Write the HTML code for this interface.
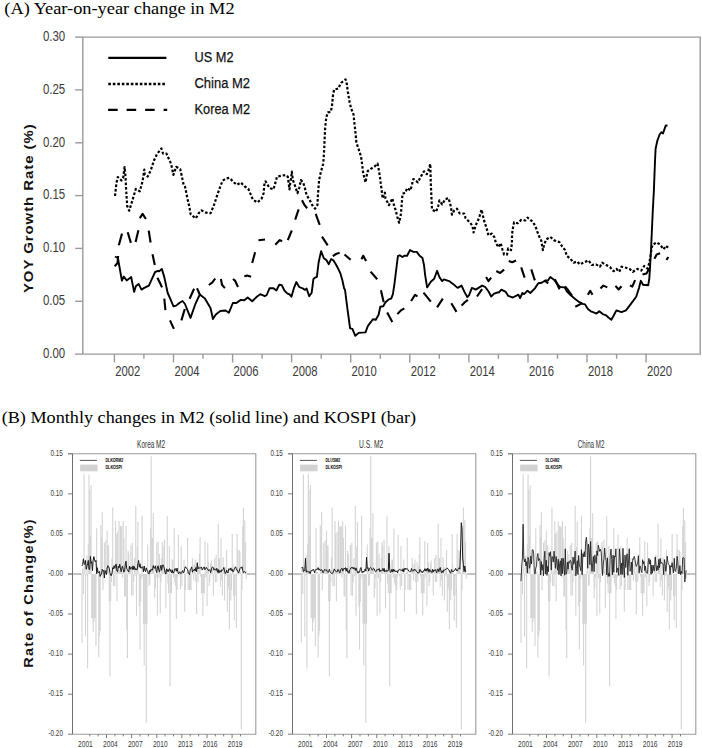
<!DOCTYPE html>
<html><head><meta charset="utf-8"><style>
html,body{margin:0;padding:0;background:#fff;}
svg{display:block;}
text{font-family:"Liberation Sans",sans-serif;}
.serif{font-family:"Liberation Serif",serif;}
</style></head><body>
<svg width="702" height="748" viewBox="0 0 702 748">
<rect width="702" height="748" fill="#fff"/>

<text class="serif" x="4.3" y="13.9" font-size="17.3" fill="#000" textLength="230.3" lengthAdjust="spacingAndGlyphs">(A) Year-on-year change in M2</text>
<g stroke="#9a9a9a" stroke-width="1.4" fill="none" shape-rendering="auto">
<polyline points="82.8,354.1 82.8,37.1 700.2,37.1 700.2,354.1 82.8,354.1"/>
<line x1="75.2" y1="354.1" x2="82.8" y2="354.1"/>
<line x1="75.2" y1="301.3" x2="82.8" y2="301.3"/>
<line x1="75.2" y1="248.4" x2="82.8" y2="248.4"/>
<line x1="75.2" y1="195.6" x2="82.8" y2="195.6"/>
<line x1="75.2" y1="142.8" x2="82.8" y2="142.8"/>
<line x1="75.2" y1="89.9" x2="82.8" y2="89.9"/>
<line x1="75.2" y1="37.1" x2="82.8" y2="37.1"/>
<line x1="114.4" y1="354.1" x2="114.4" y2="362.5"/>
<line x1="143.9" y1="354.1" x2="143.9" y2="358.7"/>
<line x1="173.5" y1="354.1" x2="173.5" y2="362.5"/>
<line x1="203.0" y1="354.1" x2="203.0" y2="358.7"/>
<line x1="232.6" y1="354.1" x2="232.6" y2="362.5"/>
<line x1="262.1" y1="354.1" x2="262.1" y2="358.7"/>
<line x1="291.6" y1="354.1" x2="291.6" y2="362.5"/>
<line x1="321.2" y1="354.1" x2="321.2" y2="358.7"/>
<line x1="350.7" y1="354.1" x2="350.7" y2="362.5"/>
<line x1="380.3" y1="354.1" x2="380.3" y2="358.7"/>
<line x1="409.8" y1="354.1" x2="409.8" y2="362.5"/>
<line x1="439.3" y1="354.1" x2="439.3" y2="358.7"/>
<line x1="468.9" y1="354.1" x2="468.9" y2="362.5"/>
<line x1="498.4" y1="354.1" x2="498.4" y2="358.7"/>
<line x1="528.0" y1="354.1" x2="528.0" y2="362.5"/>
<line x1="557.5" y1="354.1" x2="557.5" y2="358.7"/>
<line x1="587.0" y1="354.1" x2="587.0" y2="362.5"/>
<line x1="616.6" y1="354.1" x2="616.6" y2="358.7"/>
<line x1="646.1" y1="354.1" x2="646.1" y2="362.5"/>
</g>
<g fill="#3a3a3a" font-size="15">
<text x="65.2" y="357.9" text-anchor="end" textLength="22.3" lengthAdjust="spacingAndGlyphs">0.00</text>
<text x="65.2" y="305.1" text-anchor="end" textLength="22.3" lengthAdjust="spacingAndGlyphs">0.05</text>
<text x="65.2" y="252.2" text-anchor="end" textLength="22.3" lengthAdjust="spacingAndGlyphs">0.10</text>
<text x="65.2" y="199.4" text-anchor="end" textLength="22.3" lengthAdjust="spacingAndGlyphs">0.15</text>
<text x="65.2" y="146.6" text-anchor="end" textLength="22.3" lengthAdjust="spacingAndGlyphs">0.20</text>
<text x="65.2" y="93.7" text-anchor="end" textLength="22.3" lengthAdjust="spacingAndGlyphs">0.25</text>
<text x="65.2" y="40.9" text-anchor="end" textLength="22.3" lengthAdjust="spacingAndGlyphs">0.30</text>
<text x="115.3" y="376.4" textLength="25.1" lengthAdjust="spacingAndGlyphs">2002</text>
<text x="174.4" y="376.4" textLength="25.1" lengthAdjust="spacingAndGlyphs">2004</text>
<text x="233.5" y="376.4" textLength="25.1" lengthAdjust="spacingAndGlyphs">2006</text>
<text x="292.5" y="376.4" textLength="25.1" lengthAdjust="spacingAndGlyphs">2008</text>
<text x="351.6" y="376.4" textLength="25.1" lengthAdjust="spacingAndGlyphs">2010</text>
<text x="410.7" y="376.4" textLength="25.1" lengthAdjust="spacingAndGlyphs">2012</text>
<text x="469.8" y="376.4" textLength="25.1" lengthAdjust="spacingAndGlyphs">2014</text>
<text x="528.9" y="376.4" textLength="25.1" lengthAdjust="spacingAndGlyphs">2016</text>
<text x="587.9" y="376.4" textLength="25.1" lengthAdjust="spacingAndGlyphs">2018</text>
<text x="647.0" y="376.4" textLength="25.1" lengthAdjust="spacingAndGlyphs">2020</text>
</g>
<text transform="translate(33.1,208.2) rotate(-90)" text-anchor="middle" font-size="12" font-weight="bold" fill="#111" letter-spacing="0.8" textLength="169.8" lengthAdjust="spacingAndGlyphs">YOY Growth Rate (%)</text>
<g stroke="#000" stroke-width="2.2" fill="none">
<line x1="108.3" y1="57.8" x2="166.4" y2="57.8"/>
<line x1="108.3" y1="84" x2="166.4" y2="84" stroke-dasharray="2.6 1.9" stroke-width="2.3"/>
<line x1="108.1" y1="109.9" x2="167.2" y2="109.9" stroke-dasharray="9.6 8.9"/>
</g>
<g fill="#111" font-size="15.5" stroke="#111" stroke-width="0.25">
<text x="194.5" y="61.6" textLength="39" lengthAdjust="spacingAndGlyphs">US M2</text>
<text x="194.5" y="87.7" textLength="55.5" lengthAdjust="spacingAndGlyphs">China M2</text>
<text x="194.5" y="113.8" textLength="55.5" lengthAdjust="spacingAndGlyphs">Korea M2</text>
</g>
<g fill="none" stroke="#000" stroke-width="1.9" stroke-linejoin="round">
<polyline points="115.0,256.5 117.9,258.0 121.9,280.7 123.8,276.5 126.7,280.5 131.2,277.1 134.1,291.9 135.8,286.2 138.6,283.9 141.5,289.6 144.3,287.9 148.9,285.6 151.7,279.4 155.1,272.0 158.0,270.8 159.1,271.4 161.8,268.9 164.3,277.1 167.7,293.0 170.5,299.3 173.4,306.2 176.2,305.6 179.6,302.7 182.5,301.0 185.0,304.0 187.3,309.8 190.5,317.9 195.3,304.2 199.8,294.5 204.9,298.5 210.6,308.2 212.9,319.0 215.8,314.4 220.3,311.0 225.5,310.5 228.9,312.7 232.9,303.0 236.3,303.0 240.8,299.9 244.3,300.2 247.7,297.6 252.2,301.3 256.8,296.8 260.2,294.2 264.8,296.2 266.7,295.0 269.6,288.2 273.5,288.2 276.4,290.5 279.2,284.8 281.9,285.3 284.4,290.5 287.2,293.3 289.5,294.4 291.4,296.7 294.1,287.6 296.3,282.1 299.2,287.0 303.2,288.7 304.9,289.9 306.6,288.5 309.2,296.2 311.7,292.7 313.4,279.1 314.6,277.9 316.9,276.8 318.6,262.5 321.1,251.1 323.7,258.0 326.5,260.3 328.8,264.2 331.1,259.1 333.4,260.3 336.8,266.0 340.2,272.8 342.5,280.8 344.2,288.7 345.0,289.6 347.3,307.9 350.1,328.4 352.4,328.9 355.3,335.8 358.7,332.9 365.5,332.4 367.8,326.1 372.9,319.3 375.8,319.8 378.6,314.7 380.3,306.7 383.2,306.2 385.5,302.2 388.9,299.3 391.2,298.7 392.9,294.2 394.6,282.8 397.4,260.0 398.0,255.8 399.7,255.3 402.5,257.0 404.3,255.8 407.1,255.8 410.0,250.1 413.4,251.9 416.8,251.9 419.6,255.8 422.5,258.1 424.0,265.0 425.1,274.8 427.1,287.4 430.8,281.7 434.2,278.8 437.1,270.8 439.4,277.1 442.2,281.1 443.9,279.4 449.1,281.1 453.0,283.9 457.6,287.9 461.6,285.6 464.4,291.9 467.3,297.0 469.0,295.3 471.9,287.9 475.8,289.6 479.3,287.4 482.1,285.6 485.0,286.8 488.4,291.3 491.2,296.5 494.1,293.6 497.5,292.5 499.0,292.4 501.3,289.6 505.8,291.9 508.1,295.8 512.7,297.5 516.1,295.8 518.4,294.7 520.1,298.1 522.4,293.0 524.1,294.1 525.8,292.4 527.5,290.7 530.3,293.0 534.9,288.4 538.3,283.3 541.7,282.7 545.1,280.5 548.0,280.5 550.3,277.0 554.3,279.9 557.1,283.9 560.0,287.0 564.6,287.4 566.8,291.3 570.8,295.3 574.8,298.7 579.4,302.2 582.8,303.9 585.1,304.4 587.9,309.0 590.8,311.3 593.6,312.4 596.5,313.6 599.3,311.3 602.7,314.1 606.2,315.3 608.4,317.5 611.3,319.8 613.6,315.8 616.4,310.4 621.4,312.1 626.0,310.4 631.1,303.6 636.2,296.7 639.1,287.6 640.8,280.8 643.0,284.8 648.2,285.3 649.3,278.5 649.9,269.6 651.0,250.0 652.7,212.8 653.9,190.0 655.0,161.3 655.6,148.7 657.3,140.8 659.6,134.5 661.3,132.2 663.0,133.4 665.8,125.4 667.5,125.7"/>
<polyline points="115.0,196.0 116.4,183.3 117.8,177.0 121.5,180.5 123.2,177.6 124.6,167.0 125.0,171.0 125.5,176.5 126.1,189.0 127.2,206.1 129.2,210.7 132.4,200.4 135.8,189.0 139.8,191.3 142.6,181.0 144.3,169.6 144.8,174.8 147.7,176.5 150.6,170.8 154.0,160.5 156.9,154.2 161.4,148.5 163.1,153.7 166.5,153.7 171.1,163.9 173.4,174.8 176.2,166.8 180.2,169.1 183.6,184.4 185.0,186.5 187.3,197.9 189.6,208.1 190.7,214.4 195.8,218.4 198.7,213.2 201.5,210.4 206.1,212.7 210.6,213.2 214.1,204.7 217.5,194.4 220.3,186.5 222.6,180.8 226.0,178.5 229.4,177.9 234.0,182.5 236.9,184.8 240.8,182.5 244.8,186.5 248.2,188.7 250.5,193.9 252.8,199.6 257.4,202.4 261.4,199.0 263.6,193.3 264.5,183.0 265.5,181.3 269.6,188.1 273.5,189.3 275.8,181.3 277.0,176.7 282.1,175.6 285.5,175.0 287.8,176.7 289.5,189.3 290.1,183.6 291.2,177.9 291.8,171.6 292.9,180.1 295.8,188.1 297.5,193.2 299.2,188.1 300.9,180.1 303.2,182.4 304.9,188.1 306.6,195.0 309.4,199.5 312.9,206.4 315.1,208.6 317.4,205.2 318.0,193.8 319.1,180.1 320.8,172.2 323.1,164.2 323.7,157.4 324.3,147.1 325.1,128.4 326.3,117.0 328.0,112.4 330.8,111.9 332.0,105.6 333.1,94.2 334.2,89.6 338.2,88.5 341.1,82.8 345.6,79.4 346.8,83.9 347.9,91.9 349.6,102.2 351.3,109.0 353.6,114.7 354.2,121.5 355.3,130.7 356.4,142.5 358.7,149.4 361.0,156.2 362.1,164.2 363.2,173.3 365.5,182.4 366.7,175.6 367.8,171.0 371.2,168.7 374.6,166.5 377.5,163.6 378.6,168.7 379.8,175.6 380.9,184.7 382.0,192.7 382.6,198.4 384.9,192.7 385.5,198.4 388.9,205.2 391.2,200.7 392.3,198.4 394.0,205.2 395.7,210.3 397.4,217.1 399.1,222.8 400.8,214.8 401.4,208.0 402.5,193.8 405.4,192.7 407.1,188.1 410.5,190.4 412.2,183.6 413.4,179.0 417.9,182.4 420.8,176.7 424.0,171.3 426.8,174.2 428.5,170.2 430.3,163.9 430.5,173.0 430.8,183.3 431.4,197.0 432.0,209.5 436.0,211.8 438.2,206.1 439.4,200.4 442.2,204.4 445.1,199.3 448.5,198.1 450.2,203.8 451.3,209.5 451.9,214.6 454.2,210.5 457.0,208.7 459.6,213.3 464.2,213.6 465.6,218.2 469.6,222.2 472.4,225.6 473.6,232.5 475.8,225.1 478.7,218.8 480.4,213.7 481.5,209.6 482.7,214.8 484.4,221.7 486.7,228.5 488.4,235.3 491.8,233.6 494.6,237.6 495.8,242.7 498.4,247.2 500.7,243.2 502.4,249.5 504.1,254.6 507.0,254.6 508.1,248.4 511.0,250.1 511.9,243.8 512.1,233.6 513.2,226.7 514.1,222.2 517.8,223.3 521.2,219.9 525.2,220.5 527.5,217.6 532.6,221.6 535.5,226.2 537.2,231.3 538.9,235.8 541.2,240.4 542.9,250.1 544.0,245.0 546.3,239.3 550.3,237.0 554.3,240.4 559.4,242.1 562.3,246.7 565.1,250.1 566.8,255.8 570.3,258.7 573.7,262.7 577.1,261.5 579.9,264.4 584.5,262.1 588.5,260.4 591.9,265.0 595.9,264.4 599.9,266.7 602.2,262.7 606.2,265.0 610.1,267.2 613.6,271.2 616.4,268.9 619.3,271.8 621.5,266.7 626.1,267.8 629.5,268.9 632.9,271.8 637.5,268.9 641.3,270.5 644.2,266.0 647.6,268.6 649.3,262.9 650.5,256.1 651.6,248.1 652.7,244.7 656.7,242.4 660.1,244.7 663.6,249.3 665.8,245.8 668.7,248.1" stroke-dasharray="2.6 1.9" stroke-width="2.2"/>
<g stroke-linecap="butt" stroke-width="2.1">
<polyline points="114.7,266.4 117.5,263.0 118.1,256.0"/>
<polyline points="118.8,245.3 122.0,233.6"/>
<polyline points="127.7,232.2 130.9,242.9"/>
<polyline points="135.6,242.0 138.4,230.3"/>
<polyline points="139.8,218.1 142.6,213.9 145.9,219.0"/>
<polyline points="148.7,230.7 150.6,242.5"/>
<polyline points="152.5,254.2 154.8,265.0"/>
<polyline points="157.4,277.7 160.0,283.0 162.0,287.4"/>
<polyline points="164.3,298.7 165.4,310.1"/>
<polyline points="170.0,320.4 173.9,328.9"/>
<polyline points="181.4,320.4 184.8,309.0"/>
<polyline points="189.6,298.7 194.1,288.7"/>
<polyline points="197.0,288.2 199.8,294.5"/>
<polyline points="208.9,285.0 212.4,282.4 215.2,278.5"/>
<polyline points="220.9,279.0 222.0,284.7 224.9,288.1"/>
<polyline points="232.9,279.0 235.1,280.7 238.0,287.0"/>
<polyline points="244.3,276.2 247.1,275.6 251.1,276.7"/>
<polyline points="252.2,263.0 255.1,252.2"/>
<polyline points="258.5,240.3 265.0,239.5"/>
<polyline points="275.3,244.7 279.8,240.1 282.1,241.3"/>
<polyline points="287.8,240.1 291.8,230.5"/>
<polyline points="295.2,219.6 298.6,209.4"/>
<polyline points="302.0,200.3 304.5,205.0 307.2,208.2"/>
<polyline points="315.7,213.9 319.7,224.8"/>
<polyline points="322.0,236.7 327.7,245.3"/>
<polyline points="332.8,256.1 336.0,254.0 339.6,252.7"/>
<polyline points="344.5,254.5 348.0,257.5 350.7,259.8"/>
<polyline points="361.5,259.3 363.2,255.8 366.1,261.0"/>
<polyline points="370.6,271.6 377.2,279.3"/>
<polyline points="380.9,290.2 383.7,302.2"/>
<polyline points="387.2,312.4 392.3,322.1"/>
<polyline points="397.4,314.1 401.0,310.3 404.3,308.4"/>
<polyline points="411.1,301.0 415.1,294.8 417.4,296.5"/>
<polyline points="423.5,292.6 430.8,301.6"/>
<polyline points="437.1,307.3 442.8,298.7"/>
<polyline points="451.3,303.3 456.5,311.9"/>
<polyline points="461.6,305.6 464.5,302.5 467.9,299.9"/>
<polyline points="477.0,296.5 482.1,289.1"/>
<polyline points="486.1,277.1 488.4,281.1 491.2,277.7"/>
<polyline points="496.3,271.0 500.1,273.0 504.1,269.6"/>
<polyline points="508.7,261.1 512.1,262.2 516.1,260.5"/>
<polyline points="521.2,267.4 524.6,277.6"/>
<polyline points="531.3,269.4 534.8,280.4"/>
<polyline points="544.2,281.0 546.0,281.5 548.1,283.5"/>
<polyline points="554.8,279.2 557.0,283.5 559.5,289.4"/>
<polyline points="565.0,286.3 568.0,290.0 572.0,295.7"/>
<polyline points="575.3,306.7 579.9,304.4 582.2,303.3"/>
<polyline points="587.9,294.8 590.2,290.8 592.5,294.8"/>
<polyline points="600.5,288.5 603.3,285.6 607.3,287.4"/>
<polyline points="615.5,285.9 618.6,289.5 621.5,286.3"/>
<polyline points="630.0,285.3 632.3,286.6 635.1,280.2"/>
<polyline points="642.5,274.5 646.5,273.4 649.3,268.2"/>
<polyline points="654.4,258.7 656.7,254.5 660.1,253.3"/>
<polyline points="666.4,259.9 668.4,257.0"/>
</g>
</g>
<text class="serif" x="1.7" y="423" font-size="17.4" fill="#000" textLength="414.4" lengthAdjust="spacingAndGlyphs">(B) Monthly changes in M2 (solid line) and KOSPI (bar)</text>
<text transform="translate(33.2,592.9) rotate(-90)" text-anchor="middle" font-size="12" font-weight="bold" fill="#111" letter-spacing="1.0" textLength="149.6" lengthAdjust="spacingAndGlyphs">Rate of Change(%)</text>
<g fill="#d4d4d4">
<rect x="81.45" y="574.0" width="1.1" height="68.9"/>
<rect x="82.15" y="568.6" width="1.1" height="5.4"/>
<rect x="82.85" y="574.0" width="1.1" height="20.0"/>
<rect x="83.55" y="474.3" width="1.1" height="99.7"/>
<rect x="84.24" y="566.4" width="1.1" height="7.6"/>
<rect x="84.94" y="574.0" width="1.1" height="62.5"/>
<rect x="85.64" y="574.0" width="1.1" height="1.5"/>
<rect x="86.34" y="555.6" width="1.1" height="18.4"/>
<rect x="87.04" y="574.0" width="1.1" height="94.5"/>
<rect x="87.74" y="544.4" width="1.1" height="29.6"/>
<rect x="88.44" y="474.3" width="1.1" height="99.7"/>
<rect x="89.14" y="489.9" width="1.1" height="84.1"/>
<rect x="89.83" y="536.4" width="1.1" height="37.6"/>
<rect x="90.53" y="485.1" width="1.1" height="88.9"/>
<rect x="91.23" y="574.0" width="1.1" height="44.1"/>
<rect x="91.93" y="574.0" width="1.1" height="44.1"/>
<rect x="92.63" y="574.0" width="1.1" height="57.7"/>
<rect x="93.33" y="574.0" width="1.1" height="48.1"/>
<rect x="94.03" y="574.0" width="1.1" height="44.1"/>
<rect x="94.73" y="574.0" width="1.1" height="44.1"/>
<rect x="95.42" y="574.0" width="1.1" height="72.1"/>
<rect x="96.12" y="528.3" width="1.1" height="45.7"/>
<rect x="96.82" y="572.3" width="1.1" height="1.7"/>
<rect x="97.52" y="571.8" width="1.1" height="2.2"/>
<rect x="98.22" y="574.0" width="1.1" height="83.3"/>
<rect x="98.92" y="574.0" width="1.1" height="62.5"/>
<rect x="99.62" y="574.0" width="1.1" height="56.9"/>
<rect x="100.32" y="525.1" width="1.1" height="48.9"/>
<rect x="101.01" y="537.2" width="1.1" height="36.8"/>
<rect x="101.71" y="512.3" width="1.1" height="61.7"/>
<rect x="102.41" y="574.0" width="1.1" height="16.0"/>
<rect x="103.11" y="573.0" width="1.1" height="1.0"/>
<rect x="103.81" y="542.8" width="1.1" height="31.2"/>
<rect x="104.51" y="572.5" width="1.1" height="1.5"/>
<rect x="105.21" y="540.4" width="1.1" height="33.6"/>
<rect x="105.91" y="571.1" width="1.1" height="2.9"/>
<rect x="106.60" y="530.7" width="1.1" height="43.3"/>
<rect x="107.30" y="546.0" width="1.1" height="28.0"/>
<rect x="108.00" y="545.2" width="1.1" height="28.8"/>
<rect x="108.70" y="574.0" width="1.1" height="27.2"/>
<rect x="109.40" y="574.0" width="1.1" height="102.5"/>
<rect x="110.10" y="574.0" width="1.1" height="27.2"/>
<rect x="110.80" y="574.0" width="1.1" height="8.0"/>
<rect x="111.50" y="558.0" width="1.1" height="16.0"/>
<rect x="112.19" y="507.5" width="1.1" height="66.5"/>
<rect x="112.89" y="574.0" width="1.1" height="12.0"/>
<rect x="113.59" y="571.3" width="1.1" height="2.7"/>
<rect x="114.29" y="574.0" width="1.1" height="12.1"/>
<rect x="114.99" y="521.1" width="1.1" height="52.9"/>
<rect x="115.69" y="534.0" width="1.1" height="40.1"/>
<rect x="116.39" y="574.0" width="1.1" height="27.2"/>
<rect x="117.08" y="531.5" width="1.1" height="42.5"/>
<rect x="117.78" y="570.3" width="1.1" height="3.7"/>
<rect x="118.48" y="521.1" width="1.1" height="52.9"/>
<rect x="119.18" y="569.9" width="1.1" height="4.1"/>
<rect x="119.88" y="525.9" width="1.1" height="48.1"/>
<rect x="120.58" y="527.5" width="1.1" height="46.5"/>
<rect x="121.28" y="525.9" width="1.1" height="48.1"/>
<rect x="121.98" y="574.0" width="1.1" height="3.7"/>
<rect x="122.67" y="521.1" width="1.1" height="52.9"/>
<rect x="123.37" y="538.0" width="1.1" height="36.0"/>
<rect x="124.07" y="574.0" width="1.1" height="22.4"/>
<rect x="124.77" y="574.0" width="1.1" height="22.4"/>
<rect x="125.47" y="525.9" width="1.1" height="48.1"/>
<rect x="126.17" y="574.0" width="1.1" height="56.1"/>
<rect x="126.87" y="574.0" width="1.1" height="84.1"/>
<rect x="127.57" y="550.8" width="1.1" height="23.2"/>
<rect x="128.26" y="554.0" width="1.1" height="20.0"/>
<rect x="128.96" y="566.0" width="1.1" height="8.0"/>
<rect x="129.66" y="569.5" width="1.1" height="4.5"/>
<rect x="130.36" y="545.2" width="1.1" height="28.8"/>
<rect x="131.06" y="574.0" width="1.1" height="21.6"/>
<rect x="131.76" y="542.8" width="1.1" height="31.2"/>
<rect x="132.46" y="574.0" width="1.1" height="21.6"/>
<rect x="133.16" y="574.0" width="1.1" height="8.0"/>
<rect x="133.85" y="558.0" width="1.1" height="16.0"/>
<rect x="134.55" y="574.0" width="1.1" height="2.1"/>
<rect x="135.25" y="505.9" width="1.1" height="68.1"/>
<rect x="135.95" y="574.0" width="1.1" height="41.7"/>
<rect x="136.65" y="546.8" width="1.1" height="27.2"/>
<rect x="137.35" y="521.9" width="1.1" height="52.1"/>
<rect x="138.05" y="573.1" width="1.1" height="0.9"/>
<rect x="138.75" y="574.0" width="1.1" height="32.0"/>
<rect x="139.44" y="574.0" width="1.1" height="75.7"/>
<rect x="140.14" y="574.0" width="1.1" height="28.0"/>
<rect x="140.84" y="574.0" width="1.1" height="5.0"/>
<rect x="141.54" y="515.5" width="1.1" height="58.5"/>
<rect x="142.24" y="574.0" width="1.1" height="2.4"/>
<rect x="142.94" y="574.0" width="1.1" height="49.7"/>
<rect x="143.64" y="574.0" width="1.1" height="91.3"/>
<rect x="144.34" y="574.0" width="1.1" height="49.7"/>
<rect x="145.03" y="574.0" width="1.1" height="49.7"/>
<rect x="145.73" y="574.0" width="1.1" height="149.0"/>
<rect x="146.43" y="574.0" width="1.1" height="49.7"/>
<rect x="147.13" y="544.4" width="1.1" height="29.6"/>
<rect x="147.83" y="570.5" width="1.1" height="3.5"/>
<rect x="148.53" y="574.0" width="1.1" height="12.0"/>
<rect x="149.23" y="574.0" width="1.1" height="10.8"/>
<rect x="149.92" y="528.3" width="1.1" height="45.7"/>
<rect x="150.62" y="456.3" width="1.1" height="117.7"/>
<rect x="151.32" y="538.0" width="1.1" height="36.0"/>
<rect x="152.02" y="538.0" width="1.1" height="36.0"/>
<rect x="152.72" y="513.1" width="1.1" height="60.9"/>
<rect x="153.42" y="567.0" width="1.1" height="7.0"/>
<rect x="154.12" y="574.0" width="1.1" height="24.0"/>
<rect x="154.82" y="574.0" width="1.1" height="14.4"/>
<rect x="155.51" y="574.0" width="1.1" height="3.5"/>
<rect x="156.21" y="542.8" width="1.1" height="31.2"/>
<rect x="156.91" y="574.0" width="1.1" height="41.7"/>
<rect x="157.61" y="541.2" width="1.1" height="32.8"/>
<rect x="158.31" y="574.0" width="1.1" height="4.2"/>
<rect x="159.01" y="554.0" width="1.1" height="20.0"/>
<rect x="159.71" y="574.0" width="1.1" height="39.2"/>
<rect x="160.41" y="574.0" width="1.1" height="8.0"/>
<rect x="161.10" y="558.0" width="1.1" height="16.0"/>
<rect x="161.80" y="542.0" width="1.1" height="32.0"/>
<rect x="162.50" y="546.0" width="1.1" height="28.0"/>
<rect x="163.20" y="573.8" width="1.1" height="0.2"/>
<rect x="163.90" y="539.6" width="1.1" height="34.4"/>
<rect x="164.60" y="570.3" width="1.1" height="3.7"/>
<rect x="165.30" y="574.0" width="1.1" height="34.4"/>
<rect x="166.00" y="568.6" width="1.1" height="5.4"/>
<rect x="166.69" y="516.3" width="1.1" height="57.7"/>
<rect x="167.39" y="574.0" width="1.1" height="9.5"/>
<rect x="168.09" y="574.0" width="1.1" height="19.2"/>
<rect x="168.79" y="546.0" width="1.1" height="28.0"/>
<rect x="169.49" y="574.0" width="1.1" height="112.1"/>
<rect x="170.19" y="574.0" width="1.1" height="19.2"/>
<rect x="170.89" y="574.0" width="1.1" height="19.2"/>
<rect x="171.59" y="559.6" width="1.1" height="14.4"/>
<rect x="172.28" y="559.6" width="1.1" height="14.4"/>
<rect x="172.98" y="574.0" width="1.1" height="3.9"/>
<rect x="173.68" y="528.3" width="1.1" height="45.7"/>
<rect x="174.38" y="574.0" width="1.1" height="9.1"/>
<rect x="175.08" y="574.0" width="1.1" height="11.8"/>
<rect x="175.78" y="574.0" width="1.1" height="44.9"/>
<rect x="176.48" y="574.0" width="1.1" height="16.0"/>
<rect x="177.18" y="574.0" width="1.1" height="3.3"/>
<rect x="177.87" y="534.8" width="1.1" height="39.2"/>
<rect x="178.57" y="572.8" width="1.1" height="1.2"/>
<rect x="179.27" y="574.0" width="1.1" height="1.9"/>
<rect x="179.97" y="574.0" width="1.1" height="15.2"/>
<rect x="180.67" y="546.0" width="1.1" height="28.0"/>
<rect x="181.37" y="574.0" width="1.1" height="11.9"/>
<rect x="182.07" y="573.5" width="1.1" height="0.5"/>
<rect x="182.76" y="573.3" width="1.1" height="0.7"/>
<rect x="183.46" y="559.6" width="1.1" height="14.4"/>
<rect x="184.16" y="574.0" width="1.1" height="37.6"/>
<rect x="184.86" y="574.0" width="1.1" height="16.0"/>
<rect x="185.56" y="572.8" width="1.1" height="1.2"/>
<rect x="186.26" y="572.3" width="1.1" height="1.7"/>
<rect x="186.96" y="538.0" width="1.1" height="36.0"/>
<rect x="187.66" y="574.0" width="1.1" height="16.0"/>
<rect x="188.35" y="574.0" width="1.1" height="1.5"/>
<rect x="189.05" y="574.0" width="1.1" height="16.0"/>
<rect x="189.75" y="574.0" width="1.1" height="16.0"/>
<rect x="190.45" y="574.0" width="1.1" height="16.0"/>
<rect x="191.15" y="573.9" width="1.1" height="0.1"/>
<rect x="191.85" y="558.0" width="1.1" height="16.0"/>
<rect x="192.55" y="564.4" width="1.1" height="9.6"/>
<rect x="193.25" y="574.0" width="1.1" height="6.4"/>
<rect x="193.94" y="564.4" width="1.1" height="9.6"/>
<rect x="194.64" y="559.6" width="1.1" height="14.4"/>
<rect x="195.34" y="574.0" width="1.1" height="8.0"/>
<rect x="196.04" y="574.0" width="1.1" height="40.1"/>
<rect x="196.74" y="562.0" width="1.1" height="12.0"/>
<rect x="197.44" y="574.0" width="1.1" height="8.0"/>
<rect x="198.14" y="566.3" width="1.1" height="7.7"/>
<rect x="198.84" y="554.0" width="1.1" height="20.0"/>
<rect x="199.53" y="537.2" width="1.1" height="36.8"/>
<rect x="200.23" y="574.0" width="1.1" height="2.5"/>
<rect x="200.93" y="574.0" width="1.1" height="19.2"/>
<rect x="201.63" y="574.0" width="1.1" height="19.2"/>
<rect x="202.33" y="574.0" width="1.1" height="41.7"/>
<rect x="203.03" y="574.0" width="1.1" height="19.2"/>
<rect x="203.73" y="574.0" width="1.1" height="19.2"/>
<rect x="204.43" y="541.2" width="1.1" height="32.8"/>
<rect x="205.12" y="574.0" width="1.1" height="3.4"/>
<rect x="205.82" y="570.1" width="1.1" height="3.9"/>
<rect x="206.52" y="574.0" width="1.1" height="32.0"/>
<rect x="207.22" y="542.8" width="1.1" height="31.2"/>
<rect x="207.92" y="562.0" width="1.1" height="12.0"/>
<rect x="208.62" y="574.0" width="1.1" height="12.0"/>
<rect x="209.32" y="574.0" width="1.1" height="8.0"/>
<rect x="210.02" y="563.3" width="1.1" height="10.7"/>
<rect x="210.71" y="560.4" width="1.1" height="13.6"/>
<rect x="211.41" y="573.5" width="1.1" height="0.5"/>
<rect x="212.11" y="569.4" width="1.1" height="4.6"/>
<rect x="212.81" y="574.0" width="1.1" height="21.6"/>
<rect x="213.51" y="574.0" width="1.1" height="0.0"/>
<rect x="214.21" y="558.0" width="1.1" height="16.0"/>
<rect x="214.91" y="574.0" width="1.1" height="8.0"/>
<rect x="215.60" y="554.8" width="1.1" height="19.2"/>
<rect x="216.30" y="574.0" width="1.1" height="8.0"/>
<rect x="217.00" y="573.4" width="1.1" height="0.6"/>
<rect x="217.70" y="523.5" width="1.1" height="50.5"/>
<rect x="218.40" y="559.5" width="1.1" height="14.5"/>
<rect x="219.10" y="558.0" width="1.1" height="16.0"/>
<rect x="219.80" y="574.0" width="1.1" height="12.8"/>
<rect x="220.50" y="538.0" width="1.1" height="36.0"/>
<rect x="221.19" y="574.0" width="1.1" height="6.4"/>
<rect x="221.89" y="574.0" width="1.1" height="21.6"/>
<rect x="222.59" y="557.2" width="1.1" height="16.8"/>
<rect x="223.29" y="566.9" width="1.1" height="7.1"/>
<rect x="223.99" y="574.0" width="1.1" height="26.4"/>
<rect x="224.69" y="567.5" width="1.1" height="6.5"/>
<rect x="225.39" y="574.0" width="1.1" height="2.4"/>
<rect x="226.09" y="550.0" width="1.1" height="24.0"/>
<rect x="226.78" y="574.0" width="1.1" height="37.6"/>
<rect x="227.48" y="574.0" width="1.1" height="16.0"/>
<rect x="228.18" y="574.0" width="1.1" height="12.8"/>
<rect x="228.88" y="574.0" width="1.1" height="55.3"/>
<rect x="229.58" y="571.6" width="1.1" height="2.4"/>
<rect x="230.28" y="574.0" width="1.1" height="26.4"/>
<rect x="230.98" y="574.0" width="1.1" height="16.0"/>
<rect x="231.68" y="534.0" width="1.1" height="40.1"/>
<rect x="232.37" y="564.4" width="1.1" height="9.6"/>
<rect x="233.07" y="574.0" width="1.1" height="21.6"/>
<rect x="233.77" y="574.0" width="1.1" height="46.5"/>
<rect x="234.47" y="574.0" width="1.1" height="21.6"/>
<rect x="235.17" y="574.0" width="1.1" height="1.8"/>
<rect x="235.87" y="574.0" width="1.1" height="53.7"/>
<rect x="236.57" y="534.0" width="1.1" height="40.1"/>
<rect x="237.27" y="550.0" width="1.1" height="24.0"/>
<rect x="237.96" y="570.0" width="1.1" height="4.0"/>
<rect x="238.66" y="550.0" width="1.1" height="24.0"/>
<rect x="239.36" y="551.6" width="1.1" height="22.4"/>
<rect x="240.06" y="572.2" width="1.1" height="1.8"/>
<rect x="240.76" y="574.0" width="1.1" height="155.4"/>
<rect x="241.46" y="574.0" width="1.1" height="16.0"/>
<rect x="242.16" y="525.9" width="1.1" height="48.1"/>
<rect x="242.86" y="507.5" width="1.1" height="66.5"/>
<rect x="243.55" y="573.9" width="1.1" height="0.1"/>
<rect x="244.25" y="520.3" width="1.1" height="53.7"/>
<rect x="244.95" y="542.0" width="1.1" height="32.0"/>
<rect x="245.65" y="574.0" width="1.1" height="4.8"/>
</g>
<line x1="68.0" y1="574.0" x2="81.4" y2="574.0" stroke="#8a8a8a" stroke-width="1"/>
<line x1="246.8" y1="574.0" x2="255.8" y2="574.0" stroke="#8a8a8a" stroke-width="1"/>
<polyline points="82.00,565.9 82.70,564.6 83.40,558.8 84.10,563.4 84.79,564.5 85.49,560.4 86.19,569.3 86.89,566.4 87.59,563.7 88.29,560.4 88.99,569.4 89.69,569.5 90.38,556.4 91.08,563.3 91.78,561.7 92.48,570.6 93.18,560.1 93.88,556.6 94.58,559.9 95.28,561.7 95.97,560.4 96.67,573.6 97.37,567.7 98.07,572.5 98.77,572.3 99.47,571.4 100.17,576.4 100.87,575.0 101.56,573.9 102.26,569.4 102.96,571.1 103.66,570.5 104.36,578.0 105.06,570.5 105.76,572.2 106.46,574.6 107.15,568.0 107.85,565.7 108.55,566.5 109.25,568.2 109.95,572.8 110.65,575.4 111.35,575.6 112.05,572.9 112.74,567.7 113.44,569.0 114.14,565.7 114.84,568.4 115.54,564.6 116.24,564.2 116.94,571.1 117.63,571.7 118.33,566.2 119.03,567.9 119.73,564.2 120.43,567.8 121.13,571.7 121.83,568.5 122.53,566.1 123.22,569.5 123.92,572.2 124.62,571.1 125.32,563.9 126.02,561.2 126.72,568.9 127.42,569.6 128.12,571.1 128.81,572.0 129.51,566.1 130.21,569.2 130.91,567.2 131.61,567.4 132.31,569.6 133.01,565.8 133.71,569.5 134.40,566.6 135.10,569.9 135.80,568.5 136.50,569.8 137.20,569.8 137.90,563.9 138.60,560.4 139.30,567.2 139.99,563.7 140.69,568.1 141.39,568.1 142.09,566.7 142.79,567.1 143.49,571.8 144.19,566.0 144.89,570.5 145.58,571.7 146.28,567.8 146.98,570.1 147.68,571.2 148.38,573.5 149.08,574.1 149.78,570.2 150.47,571.7 151.17,569.2 151.87,570.3 152.57,570.0 153.27,565.6 153.97,568.1 154.67,568.2 155.37,565.8 156.06,570.6 156.76,572.6 157.46,567.0 158.16,565.8 158.86,570.1 159.56,572.1 160.26,568.2 160.96,565.2 161.65,570.3 162.35,565.8 163.05,564.8 163.75,566.8 164.45,569.0 165.15,572.8 165.85,574.1 166.55,568.8 167.24,571.5 167.94,569.5 168.64,571.6 169.34,568.8 170.04,569.2 170.74,571.3 171.44,572.7 172.14,569.8 172.83,572.9 173.53,573.0 174.23,570.9 174.93,568.4 175.63,569.0 176.33,571.3 177.03,568.1 177.73,571.4 178.42,573.8 179.12,573.0 179.82,571.7 180.52,573.6 181.22,573.5 181.92,572.3 182.62,570.6 183.31,572.8 184.01,572.1 184.71,568.5 185.41,566.7 186.11,568.1 186.81,568.4 187.51,569.2 188.21,572.2 188.90,573.9 189.60,574.6 190.30,569.3 191.00,568.8 191.70,566.9 192.40,572.2 193.10,570.2 193.80,570.4 194.49,569.0 195.19,571.0 195.89,567.5 196.59,572.0 197.29,562.8 197.99,569.0 198.69,567.4 199.39,567.9 200.08,568.2 200.78,567.8 201.48,566.9 202.18,570.1 202.88,569.1 203.58,567.4 204.28,567.0 204.98,569.7 205.67,568.4 206.37,567.4 207.07,568.9 207.77,569.1 208.47,570.7 209.17,570.0 209.87,569.6 210.57,572.7 211.26,570.3 211.96,567.3 212.66,566.9 213.36,567.8 214.06,570.2 214.76,568.8 215.46,569.3 216.15,570.4 216.85,568.3 217.55,572.3 218.25,569.5 218.95,573.0 219.65,570.7 220.35,570.6 221.05,572.2 221.74,569.8 222.44,570.2 223.14,569.6 223.84,567.5 224.54,570.9 225.24,573.6 225.94,572.8 226.64,570.1 227.33,572.2 228.03,573.1 228.73,568.8 229.43,568.8 230.13,570.2 230.83,567.9 231.53,570.6 232.23,569.4 232.92,571.9 233.62,571.4 234.32,568.8 235.02,567.3 235.72,566.9 236.42,569.9 237.12,569.7 237.82,571.3 238.51,573.0 239.21,571.3 239.91,568.6 240.61,567.6 241.31,568.1 242.01,566.8 242.71,570.5 243.41,572.5 244.10,571.4 244.80,572.2 245.50,572.8 246.20,571.8" fill="none" stroke="#1a1a1a" stroke-width="1.0" stroke-linejoin="round"/>
<g stroke="#9a9a9a" stroke-width="1.1" fill="none">
<polyline points="68.0,453.8 255.8,453.8 255.8,734.2 72.5,734.2"/>
</g>
<line x1="72.5" y1="453.8" x2="72.5" y2="734.2" stroke="#6e6e6e" stroke-width="1"/>
<g stroke="#7a7a7a" stroke-width="1">
<line x1="68.0" y1="453.8" x2="72.5" y2="453.8"/>
<line x1="68.0" y1="493.9" x2="72.5" y2="493.9"/>
<line x1="68.0" y1="533.9" x2="72.5" y2="533.9"/>
<line x1="68.0" y1="574.0" x2="72.5" y2="574.0"/>
<line x1="68.0" y1="614.0" x2="72.5" y2="614.0"/>
<line x1="68.0" y1="654.1" x2="72.5" y2="654.1"/>
<line x1="68.0" y1="694.2" x2="72.5" y2="694.2"/>
<line x1="68.0" y1="734.2" x2="72.5" y2="734.2"/>
<line x1="89.8" y1="734.2" x2="89.8" y2="736.4"/>
<line x1="98.2" y1="734.2" x2="98.2" y2="736.4"/>
<line x1="106.5" y1="734.2" x2="106.5" y2="738.2"/>
<line x1="114.9" y1="734.2" x2="114.9" y2="736.4"/>
<line x1="123.3" y1="734.2" x2="123.3" y2="736.4"/>
<line x1="131.6" y1="734.2" x2="131.6" y2="738.2"/>
<line x1="140.0" y1="734.2" x2="140.0" y2="736.4"/>
<line x1="148.4" y1="734.2" x2="148.4" y2="736.4"/>
<line x1="156.8" y1="734.2" x2="156.8" y2="738.2"/>
<line x1="165.1" y1="734.2" x2="165.1" y2="736.4"/>
<line x1="173.5" y1="734.2" x2="173.5" y2="736.4"/>
<line x1="181.9" y1="734.2" x2="181.9" y2="738.2"/>
<line x1="190.2" y1="734.2" x2="190.2" y2="736.4"/>
<line x1="198.6" y1="734.2" x2="198.6" y2="736.4"/>
<line x1="207.0" y1="734.2" x2="207.0" y2="738.2"/>
<line x1="215.3" y1="734.2" x2="215.3" y2="736.4"/>
<line x1="223.7" y1="734.2" x2="223.7" y2="736.4"/>
<line x1="232.1" y1="734.2" x2="232.1" y2="738.2"/>
<line x1="240.5" y1="734.2" x2="240.5" y2="736.4"/>
</g>
<g fill="#3a3a3a" font-size="9.3">
<text x="62.9" y="456.0" text-anchor="end" textLength="12.3" lengthAdjust="spacingAndGlyphs">0.15</text>
<text x="62.9" y="496.1" text-anchor="end" textLength="12.3" lengthAdjust="spacingAndGlyphs">0.10</text>
<text x="62.9" y="536.1" text-anchor="end" textLength="12.3" lengthAdjust="spacingAndGlyphs">0.05</text>
<text x="62.9" y="576.2" text-anchor="end" textLength="14.4" lengthAdjust="spacingAndGlyphs">-0.00</text>
<text x="62.9" y="616.2" text-anchor="end" textLength="14.4" lengthAdjust="spacingAndGlyphs">-0.05</text>
<text x="62.9" y="656.3" text-anchor="end" textLength="14.4" lengthAdjust="spacingAndGlyphs">-0.10</text>
<text x="62.9" y="696.4" text-anchor="end" textLength="14.4" lengthAdjust="spacingAndGlyphs">-0.15</text>
<text x="62.9" y="736.4" text-anchor="end" textLength="14.4" lengthAdjust="spacingAndGlyphs">-0.20</text>
<text x="85.4" y="747.4" text-anchor="middle" font-size="9.8" textLength="14.7" lengthAdjust="spacingAndGlyphs">2001</text>
<text x="110.4" y="747.4" text-anchor="middle" font-size="9.8" textLength="14.7" lengthAdjust="spacingAndGlyphs">2004</text>
<text x="135.3" y="747.4" text-anchor="middle" font-size="9.8" textLength="14.7" lengthAdjust="spacingAndGlyphs">2007</text>
<text x="160.3" y="747.4" text-anchor="middle" font-size="9.8" textLength="14.7" lengthAdjust="spacingAndGlyphs">2010</text>
<text x="185.3" y="747.4" text-anchor="middle" font-size="9.8" textLength="14.7" lengthAdjust="spacingAndGlyphs">2013</text>
<text x="210.2" y="747.4" text-anchor="middle" font-size="9.8" textLength="14.7" lengthAdjust="spacingAndGlyphs">2016</text>
<text x="235.2" y="747.4" text-anchor="middle" font-size="9.8" textLength="14.7" lengthAdjust="spacingAndGlyphs">2019</text>
</g>
<text x="151.1" y="448.1" text-anchor="middle" font-size="10.2" fill="#333" textLength="28" lengthAdjust="spacingAndGlyphs">Korea M2</text>
<line x1="79.8" y1="460.4" x2="96.9" y2="460.4" stroke="#555" stroke-width="1"/>
<rect x="80.1" y="464.6" width="17.5" height="6.7" fill="#d2d2d2"/>
<text x="105.4" y="462.1" font-size="5.9" font-weight="bold" fill="#000" textLength="17.8" lengthAdjust="spacingAndGlyphs">DLKORM2</text>
<text x="105.4" y="469.2" font-size="5.9" font-weight="bold" fill="#000" textLength="16.7" lengthAdjust="spacingAndGlyphs">DLKOSPI</text>
<g fill="#d4d4d4">
<rect x="300.75" y="574.0" width="1.1" height="68.9"/>
<rect x="301.45" y="568.6" width="1.1" height="5.4"/>
<rect x="302.15" y="574.0" width="1.1" height="20.0"/>
<rect x="302.86" y="474.3" width="1.1" height="99.7"/>
<rect x="303.56" y="566.4" width="1.1" height="7.6"/>
<rect x="304.26" y="574.0" width="1.1" height="62.5"/>
<rect x="304.96" y="574.0" width="1.1" height="1.5"/>
<rect x="305.66" y="555.6" width="1.1" height="18.4"/>
<rect x="306.36" y="574.0" width="1.1" height="94.5"/>
<rect x="307.07" y="544.4" width="1.1" height="29.6"/>
<rect x="307.77" y="474.3" width="1.1" height="99.7"/>
<rect x="308.47" y="489.9" width="1.1" height="84.1"/>
<rect x="309.17" y="536.4" width="1.1" height="37.6"/>
<rect x="309.87" y="485.1" width="1.1" height="88.9"/>
<rect x="310.57" y="574.0" width="1.1" height="44.1"/>
<rect x="311.28" y="574.0" width="1.1" height="44.1"/>
<rect x="311.98" y="574.0" width="1.1" height="57.7"/>
<rect x="312.68" y="574.0" width="1.1" height="48.1"/>
<rect x="313.38" y="574.0" width="1.1" height="44.1"/>
<rect x="314.08" y="574.0" width="1.1" height="44.1"/>
<rect x="314.78" y="574.0" width="1.1" height="72.1"/>
<rect x="315.49" y="528.3" width="1.1" height="45.7"/>
<rect x="316.19" y="572.3" width="1.1" height="1.7"/>
<rect x="316.89" y="571.8" width="1.1" height="2.2"/>
<rect x="317.59" y="574.0" width="1.1" height="83.3"/>
<rect x="318.29" y="574.0" width="1.1" height="62.5"/>
<rect x="318.99" y="574.0" width="1.1" height="56.9"/>
<rect x="319.70" y="525.1" width="1.1" height="48.9"/>
<rect x="320.40" y="537.2" width="1.1" height="36.8"/>
<rect x="321.10" y="512.3" width="1.1" height="61.7"/>
<rect x="321.80" y="574.0" width="1.1" height="16.0"/>
<rect x="322.50" y="573.0" width="1.1" height="1.0"/>
<rect x="323.20" y="542.8" width="1.1" height="31.2"/>
<rect x="323.91" y="572.5" width="1.1" height="1.5"/>
<rect x="324.61" y="540.4" width="1.1" height="33.6"/>
<rect x="325.31" y="571.1" width="1.1" height="2.9"/>
<rect x="326.01" y="530.7" width="1.1" height="43.3"/>
<rect x="326.71" y="546.0" width="1.1" height="28.0"/>
<rect x="327.41" y="545.2" width="1.1" height="28.8"/>
<rect x="328.12" y="574.0" width="1.1" height="27.2"/>
<rect x="328.82" y="574.0" width="1.1" height="102.5"/>
<rect x="329.52" y="574.0" width="1.1" height="27.2"/>
<rect x="330.22" y="574.0" width="1.1" height="8.0"/>
<rect x="330.92" y="558.0" width="1.1" height="16.0"/>
<rect x="331.62" y="507.5" width="1.1" height="66.5"/>
<rect x="332.33" y="574.0" width="1.1" height="12.0"/>
<rect x="333.03" y="571.3" width="1.1" height="2.7"/>
<rect x="333.73" y="574.0" width="1.1" height="12.1"/>
<rect x="334.43" y="521.1" width="1.1" height="52.9"/>
<rect x="335.13" y="534.0" width="1.1" height="40.1"/>
<rect x="335.84" y="574.0" width="1.1" height="27.2"/>
<rect x="336.54" y="531.5" width="1.1" height="42.5"/>
<rect x="337.24" y="570.3" width="1.1" height="3.7"/>
<rect x="337.94" y="521.1" width="1.1" height="52.9"/>
<rect x="338.64" y="569.9" width="1.1" height="4.1"/>
<rect x="339.34" y="525.9" width="1.1" height="48.1"/>
<rect x="340.05" y="527.5" width="1.1" height="46.5"/>
<rect x="340.75" y="525.9" width="1.1" height="48.1"/>
<rect x="341.45" y="574.0" width="1.1" height="3.7"/>
<rect x="342.15" y="521.1" width="1.1" height="52.9"/>
<rect x="342.85" y="538.0" width="1.1" height="36.0"/>
<rect x="343.55" y="574.0" width="1.1" height="22.4"/>
<rect x="344.26" y="574.0" width="1.1" height="22.4"/>
<rect x="344.96" y="525.9" width="1.1" height="48.1"/>
<rect x="345.66" y="574.0" width="1.1" height="56.1"/>
<rect x="346.36" y="574.0" width="1.1" height="84.1"/>
<rect x="347.06" y="550.8" width="1.1" height="23.2"/>
<rect x="347.76" y="554.0" width="1.1" height="20.0"/>
<rect x="348.47" y="566.0" width="1.1" height="8.0"/>
<rect x="349.17" y="569.5" width="1.1" height="4.5"/>
<rect x="349.87" y="545.2" width="1.1" height="28.8"/>
<rect x="350.57" y="574.0" width="1.1" height="21.6"/>
<rect x="351.27" y="542.8" width="1.1" height="31.2"/>
<rect x="351.97" y="574.0" width="1.1" height="21.6"/>
<rect x="352.68" y="574.0" width="1.1" height="8.0"/>
<rect x="353.38" y="558.0" width="1.1" height="16.0"/>
<rect x="354.08" y="574.0" width="1.1" height="2.1"/>
<rect x="354.78" y="505.9" width="1.1" height="68.1"/>
<rect x="355.48" y="574.0" width="1.1" height="41.7"/>
<rect x="356.18" y="546.8" width="1.1" height="27.2"/>
<rect x="356.89" y="521.9" width="1.1" height="52.1"/>
<rect x="357.59" y="573.1" width="1.1" height="0.9"/>
<rect x="358.29" y="574.0" width="1.1" height="32.0"/>
<rect x="358.99" y="574.0" width="1.1" height="75.7"/>
<rect x="359.69" y="574.0" width="1.1" height="28.0"/>
<rect x="360.39" y="574.0" width="1.1" height="5.0"/>
<rect x="361.10" y="515.5" width="1.1" height="58.5"/>
<rect x="361.80" y="574.0" width="1.1" height="2.4"/>
<rect x="362.50" y="574.0" width="1.1" height="49.7"/>
<rect x="363.20" y="574.0" width="1.1" height="91.3"/>
<rect x="363.90" y="574.0" width="1.1" height="49.7"/>
<rect x="364.60" y="574.0" width="1.1" height="49.7"/>
<rect x="365.31" y="574.0" width="1.1" height="149.0"/>
<rect x="366.01" y="574.0" width="1.1" height="49.7"/>
<rect x="366.71" y="544.4" width="1.1" height="29.6"/>
<rect x="367.41" y="570.5" width="1.1" height="3.5"/>
<rect x="368.11" y="574.0" width="1.1" height="12.0"/>
<rect x="368.82" y="574.0" width="1.1" height="10.8"/>
<rect x="369.52" y="528.3" width="1.1" height="45.7"/>
<rect x="370.22" y="456.3" width="1.1" height="117.7"/>
<rect x="370.92" y="538.0" width="1.1" height="36.0"/>
<rect x="371.62" y="538.0" width="1.1" height="36.0"/>
<rect x="372.32" y="513.1" width="1.1" height="60.9"/>
<rect x="373.03" y="567.0" width="1.1" height="7.0"/>
<rect x="373.73" y="574.0" width="1.1" height="24.0"/>
<rect x="374.43" y="574.0" width="1.1" height="14.4"/>
<rect x="375.13" y="574.0" width="1.1" height="3.5"/>
<rect x="375.83" y="542.8" width="1.1" height="31.2"/>
<rect x="376.53" y="574.0" width="1.1" height="41.7"/>
<rect x="377.24" y="541.2" width="1.1" height="32.8"/>
<rect x="377.94" y="574.0" width="1.1" height="4.2"/>
<rect x="378.64" y="554.0" width="1.1" height="20.0"/>
<rect x="379.34" y="574.0" width="1.1" height="39.2"/>
<rect x="380.04" y="574.0" width="1.1" height="8.0"/>
<rect x="380.74" y="558.0" width="1.1" height="16.0"/>
<rect x="381.45" y="542.0" width="1.1" height="32.0"/>
<rect x="382.15" y="546.0" width="1.1" height="28.0"/>
<rect x="382.85" y="573.8" width="1.1" height="0.2"/>
<rect x="383.55" y="539.6" width="1.1" height="34.4"/>
<rect x="384.25" y="570.3" width="1.1" height="3.7"/>
<rect x="384.95" y="574.0" width="1.1" height="34.4"/>
<rect x="385.66" y="568.6" width="1.1" height="5.4"/>
<rect x="386.36" y="516.3" width="1.1" height="57.7"/>
<rect x="387.06" y="574.0" width="1.1" height="9.5"/>
<rect x="387.76" y="574.0" width="1.1" height="19.2"/>
<rect x="388.46" y="546.0" width="1.1" height="28.0"/>
<rect x="389.16" y="574.0" width="1.1" height="112.1"/>
<rect x="389.87" y="574.0" width="1.1" height="19.2"/>
<rect x="390.57" y="574.0" width="1.1" height="19.2"/>
<rect x="391.27" y="559.6" width="1.1" height="14.4"/>
<rect x="391.97" y="559.6" width="1.1" height="14.4"/>
<rect x="392.67" y="574.0" width="1.1" height="3.9"/>
<rect x="393.37" y="528.3" width="1.1" height="45.7"/>
<rect x="394.08" y="574.0" width="1.1" height="9.1"/>
<rect x="394.78" y="574.0" width="1.1" height="11.8"/>
<rect x="395.48" y="574.0" width="1.1" height="44.9"/>
<rect x="396.18" y="574.0" width="1.1" height="16.0"/>
<rect x="396.88" y="574.0" width="1.1" height="3.3"/>
<rect x="397.58" y="534.8" width="1.1" height="39.2"/>
<rect x="398.29" y="572.8" width="1.1" height="1.2"/>
<rect x="398.99" y="574.0" width="1.1" height="1.9"/>
<rect x="399.69" y="574.0" width="1.1" height="15.2"/>
<rect x="400.39" y="546.0" width="1.1" height="28.0"/>
<rect x="401.09" y="574.0" width="1.1" height="11.9"/>
<rect x="401.80" y="573.5" width="1.1" height="0.5"/>
<rect x="402.50" y="573.3" width="1.1" height="0.7"/>
<rect x="403.20" y="559.6" width="1.1" height="14.4"/>
<rect x="403.90" y="574.0" width="1.1" height="37.6"/>
<rect x="404.60" y="574.0" width="1.1" height="16.0"/>
<rect x="405.30" y="572.8" width="1.1" height="1.2"/>
<rect x="406.01" y="572.3" width="1.1" height="1.7"/>
<rect x="406.71" y="538.0" width="1.1" height="36.0"/>
<rect x="407.41" y="574.0" width="1.1" height="16.0"/>
<rect x="408.11" y="574.0" width="1.1" height="1.5"/>
<rect x="408.81" y="574.0" width="1.1" height="16.0"/>
<rect x="409.51" y="574.0" width="1.1" height="16.0"/>
<rect x="410.22" y="574.0" width="1.1" height="16.0"/>
<rect x="410.92" y="573.9" width="1.1" height="0.1"/>
<rect x="411.62" y="558.0" width="1.1" height="16.0"/>
<rect x="412.32" y="564.4" width="1.1" height="9.6"/>
<rect x="413.02" y="574.0" width="1.1" height="6.4"/>
<rect x="413.72" y="564.4" width="1.1" height="9.6"/>
<rect x="414.43" y="559.6" width="1.1" height="14.4"/>
<rect x="415.13" y="574.0" width="1.1" height="8.0"/>
<rect x="415.83" y="574.0" width="1.1" height="40.1"/>
<rect x="416.53" y="562.0" width="1.1" height="12.0"/>
<rect x="417.23" y="574.0" width="1.1" height="8.0"/>
<rect x="417.93" y="566.3" width="1.1" height="7.7"/>
<rect x="418.64" y="554.0" width="1.1" height="20.0"/>
<rect x="419.34" y="537.2" width="1.1" height="36.8"/>
<rect x="420.04" y="574.0" width="1.1" height="2.5"/>
<rect x="420.74" y="574.0" width="1.1" height="19.2"/>
<rect x="421.44" y="574.0" width="1.1" height="19.2"/>
<rect x="422.14" y="574.0" width="1.1" height="41.7"/>
<rect x="422.85" y="574.0" width="1.1" height="19.2"/>
<rect x="423.55" y="574.0" width="1.1" height="19.2"/>
<rect x="424.25" y="541.2" width="1.1" height="32.8"/>
<rect x="424.95" y="574.0" width="1.1" height="3.4"/>
<rect x="425.65" y="570.1" width="1.1" height="3.9"/>
<rect x="426.35" y="574.0" width="1.1" height="32.0"/>
<rect x="427.06" y="542.8" width="1.1" height="31.2"/>
<rect x="427.76" y="562.0" width="1.1" height="12.0"/>
<rect x="428.46" y="574.0" width="1.1" height="12.0"/>
<rect x="429.16" y="574.0" width="1.1" height="8.0"/>
<rect x="429.86" y="563.3" width="1.1" height="10.7"/>
<rect x="430.56" y="560.4" width="1.1" height="13.6"/>
<rect x="431.27" y="573.5" width="1.1" height="0.5"/>
<rect x="431.97" y="569.4" width="1.1" height="4.6"/>
<rect x="432.67" y="574.0" width="1.1" height="21.6"/>
<rect x="433.37" y="574.0" width="1.1" height="0.0"/>
<rect x="434.07" y="558.0" width="1.1" height="16.0"/>
<rect x="434.78" y="574.0" width="1.1" height="8.0"/>
<rect x="435.48" y="554.8" width="1.1" height="19.2"/>
<rect x="436.18" y="574.0" width="1.1" height="8.0"/>
<rect x="436.88" y="573.4" width="1.1" height="0.6"/>
<rect x="437.58" y="523.5" width="1.1" height="50.5"/>
<rect x="438.28" y="559.5" width="1.1" height="14.5"/>
<rect x="438.99" y="558.0" width="1.1" height="16.0"/>
<rect x="439.69" y="574.0" width="1.1" height="12.8"/>
<rect x="440.39" y="538.0" width="1.1" height="36.0"/>
<rect x="441.09" y="574.0" width="1.1" height="6.4"/>
<rect x="441.79" y="574.0" width="1.1" height="21.6"/>
<rect x="442.49" y="557.2" width="1.1" height="16.8"/>
<rect x="443.20" y="566.9" width="1.1" height="7.1"/>
<rect x="443.90" y="574.0" width="1.1" height="26.4"/>
<rect x="444.60" y="567.5" width="1.1" height="6.5"/>
<rect x="445.30" y="574.0" width="1.1" height="2.4"/>
<rect x="446.00" y="550.0" width="1.1" height="24.0"/>
<rect x="446.70" y="574.0" width="1.1" height="37.6"/>
<rect x="447.41" y="574.0" width="1.1" height="16.0"/>
<rect x="448.11" y="574.0" width="1.1" height="12.8"/>
<rect x="448.81" y="574.0" width="1.1" height="55.3"/>
<rect x="449.51" y="571.6" width="1.1" height="2.4"/>
<rect x="450.21" y="574.0" width="1.1" height="26.4"/>
<rect x="450.91" y="574.0" width="1.1" height="16.0"/>
<rect x="451.62" y="534.0" width="1.1" height="40.1"/>
<rect x="452.32" y="564.4" width="1.1" height="9.6"/>
<rect x="453.02" y="574.0" width="1.1" height="21.6"/>
<rect x="453.72" y="574.0" width="1.1" height="46.5"/>
<rect x="454.42" y="574.0" width="1.1" height="21.6"/>
<rect x="455.12" y="574.0" width="1.1" height="1.8"/>
<rect x="455.83" y="574.0" width="1.1" height="53.7"/>
<rect x="456.53" y="534.0" width="1.1" height="40.1"/>
<rect x="457.23" y="550.0" width="1.1" height="24.0"/>
<rect x="457.93" y="570.0" width="1.1" height="4.0"/>
<rect x="458.63" y="550.0" width="1.1" height="24.0"/>
<rect x="459.33" y="551.6" width="1.1" height="22.4"/>
<rect x="460.04" y="572.2" width="1.1" height="1.8"/>
<rect x="460.74" y="574.0" width="1.1" height="155.4"/>
<rect x="461.44" y="574.0" width="1.1" height="16.0"/>
<rect x="462.14" y="525.9" width="1.1" height="48.1"/>
<rect x="462.84" y="507.5" width="1.1" height="66.5"/>
<rect x="463.54" y="573.9" width="1.1" height="0.1"/>
<rect x="464.25" y="520.3" width="1.1" height="53.7"/>
<rect x="464.95" y="542.0" width="1.1" height="32.0"/>
<rect x="465.65" y="574.0" width="1.1" height="4.8"/>
</g>
<line x1="288.0" y1="574.0" x2="301.4" y2="574.0" stroke="#8a8a8a" stroke-width="1"/>
<line x1="466.8" y1="574.0" x2="475.8" y2="574.0" stroke="#8a8a8a" stroke-width="1"/>
<polyline points="301.30,568.2 302.00,567.3 302.70,567.3 303.41,571.5 304.11,570.3 304.81,570.8 305.51,558.0 306.21,572.3 306.91,570.8 307.62,571.5 308.32,572.2 309.02,571.3 309.72,573.2 310.42,573.5 311.12,570.4 311.83,570.8 312.53,570.5 313.23,569.2 313.93,570.7 314.63,572.8 315.33,569.8 316.04,569.7 316.74,569.3 317.44,569.4 318.14,567.6 318.84,570.1 319.54,568.9 320.25,570.6 320.95,570.1 321.65,569.5 322.35,571.0 323.05,572.8 323.75,571.4 324.46,569.6 325.16,569.6 325.86,570.4 326.56,569.7 327.26,571.8 327.96,572.6 328.67,572.1 329.37,569.3 330.07,571.6 330.77,572.8 331.47,573.3 332.17,573.8 332.88,572.8 333.58,570.8 334.28,568.9 334.98,570.7 335.68,571.2 336.39,571.8 337.09,571.9 337.79,569.5 338.49,569.8 339.19,571.5 339.89,572.8 340.60,569.8 341.30,569.1 342.00,568.2 342.70,571.0 343.40,570.4 344.10,568.2 344.81,569.1 345.51,567.6 346.21,571.2 346.91,568.2 347.61,571.9 348.31,571.4 349.02,573.2 349.72,569.8 350.42,569.2 351.12,567.5 351.82,567.8 352.52,567.1 353.23,569.1 353.93,567.4 354.63,568.0 355.33,570.4 356.03,567.9 356.73,570.2 357.44,571.9 358.14,573.1 358.84,571.5 359.54,572.4 360.24,568.8 360.94,567.5 361.65,570.9 362.35,572.6 363.05,571.0 363.75,572.3 364.45,570.8 365.15,568.9 365.86,571.2 366.56,557.2 367.26,568.5 367.96,567.6 368.66,571.1 369.37,568.6 370.07,568.1 370.77,567.5 371.47,568.4 372.17,570.2 372.87,569.3 373.58,568.3 374.28,568.9 374.98,571.2 375.68,571.8 376.38,571.3 377.08,569.3 377.79,569.7 378.49,569.9 379.19,568.5 379.89,571.8 380.59,570.2 381.29,571.2 382.00,570.4 382.70,568.6 383.40,571.1 384.10,568.3 384.80,571.9 385.50,570.6 386.21,570.2 386.91,571.7 387.61,570.5 388.31,570.6 389.01,553.2 389.71,569.2 390.42,572.6 391.12,571.8 391.82,569.4 392.52,571.9 393.22,569.0 393.92,571.5 394.63,569.8 395.33,571.9 396.03,571.2 396.73,571.1 397.43,572.8 398.13,570.2 398.84,570.4 399.54,569.4 400.24,569.9 400.94,569.9 401.64,570.1 402.35,571.3 403.05,568.7 403.75,571.9 404.45,569.0 405.15,568.0 405.85,569.6 406.56,568.7 407.26,568.9 407.96,569.3 408.66,571.1 409.36,571.6 410.06,571.6 410.77,571.8 411.47,568.5 412.17,570.6 412.87,571.0 413.57,571.0 414.27,569.0 414.98,570.0 415.68,570.0 416.38,571.5 417.08,571.9 417.78,573.1 418.48,572.8 419.19,572.5 419.89,569.3 420.59,570.0 421.29,572.3 421.99,571.3 422.69,572.7 423.40,570.8 424.10,570.9 424.80,568.7 425.50,571.1 426.20,568.8 426.90,571.2 427.61,568.1 428.31,568.9 429.01,572.3 429.71,569.4 430.41,571.2 431.11,571.4 431.82,572.6 432.52,569.4 433.22,572.2 433.92,569.8 434.62,570.7 435.33,569.6 436.03,571.2 436.73,572.9 437.43,569.1 438.13,569.1 438.83,571.7 439.54,568.4 440.24,567.5 440.94,571.0 441.64,573.1 442.34,570.8 443.04,572.4 443.75,569.9 444.45,570.4 445.15,569.3 445.85,569.6 446.55,568.7 447.25,568.1 447.96,569.1 448.66,569.5 449.36,571.0 450.06,572.5 450.76,573.3 451.46,569.5 452.17,571.6 452.87,571.2 453.57,571.6 454.27,570.2 454.97,570.2 455.67,568.4 456.38,570.0 457.08,571.0 457.78,569.8 458.48,568.9 459.18,567.7 459.88,569.2 460.59,550.0 461.29,522.7 461.99,529.1 462.69,558.0 463.39,564.4 464.09,571.6 464.80,566.0 465.50,571.6 466.20,571.5" fill="none" stroke="#1a1a1a" stroke-width="1.0" stroke-linejoin="round"/>
<g stroke="#9a9a9a" stroke-width="1.1" fill="none">
<polyline points="288.0,453.8 475.8,453.8 475.8,734.2 292.5,734.2"/>
</g>
<line x1="292.5" y1="453.8" x2="292.5" y2="734.2" stroke="#6e6e6e" stroke-width="1"/>
<g stroke="#7a7a7a" stroke-width="1">
<line x1="288.0" y1="453.8" x2="292.5" y2="453.8"/>
<line x1="288.0" y1="493.9" x2="292.5" y2="493.9"/>
<line x1="288.0" y1="533.9" x2="292.5" y2="533.9"/>
<line x1="288.0" y1="574.0" x2="292.5" y2="574.0"/>
<line x1="288.0" y1="614.0" x2="292.5" y2="614.0"/>
<line x1="288.0" y1="654.1" x2="292.5" y2="654.1"/>
<line x1="288.0" y1="694.2" x2="292.5" y2="694.2"/>
<line x1="288.0" y1="734.2" x2="292.5" y2="734.2"/>
<line x1="309.8" y1="734.2" x2="309.8" y2="736.4"/>
<line x1="318.2" y1="734.2" x2="318.2" y2="736.4"/>
<line x1="326.5" y1="734.2" x2="326.5" y2="738.2"/>
<line x1="334.9" y1="734.2" x2="334.9" y2="736.4"/>
<line x1="343.3" y1="734.2" x2="343.3" y2="736.4"/>
<line x1="351.6" y1="734.2" x2="351.6" y2="738.2"/>
<line x1="360.0" y1="734.2" x2="360.0" y2="736.4"/>
<line x1="368.4" y1="734.2" x2="368.4" y2="736.4"/>
<line x1="376.8" y1="734.2" x2="376.8" y2="738.2"/>
<line x1="385.1" y1="734.2" x2="385.1" y2="736.4"/>
<line x1="393.5" y1="734.2" x2="393.5" y2="736.4"/>
<line x1="401.9" y1="734.2" x2="401.9" y2="738.2"/>
<line x1="410.2" y1="734.2" x2="410.2" y2="736.4"/>
<line x1="418.6" y1="734.2" x2="418.6" y2="736.4"/>
<line x1="427.0" y1="734.2" x2="427.0" y2="738.2"/>
<line x1="435.4" y1="734.2" x2="435.4" y2="736.4"/>
<line x1="443.7" y1="734.2" x2="443.7" y2="736.4"/>
<line x1="452.1" y1="734.2" x2="452.1" y2="738.2"/>
<line x1="460.5" y1="734.2" x2="460.5" y2="736.4"/>
</g>
<g fill="#3a3a3a" font-size="9.3">
<text x="282.9" y="456.0" text-anchor="end" textLength="12.3" lengthAdjust="spacingAndGlyphs">0.15</text>
<text x="282.9" y="496.1" text-anchor="end" textLength="12.3" lengthAdjust="spacingAndGlyphs">0.10</text>
<text x="282.9" y="536.1" text-anchor="end" textLength="12.3" lengthAdjust="spacingAndGlyphs">0.05</text>
<text x="282.9" y="576.2" text-anchor="end" textLength="14.4" lengthAdjust="spacingAndGlyphs">-0.00</text>
<text x="282.9" y="616.2" text-anchor="end" textLength="14.4" lengthAdjust="spacingAndGlyphs">-0.05</text>
<text x="282.9" y="656.3" text-anchor="end" textLength="14.4" lengthAdjust="spacingAndGlyphs">-0.10</text>
<text x="282.9" y="696.4" text-anchor="end" textLength="14.4" lengthAdjust="spacingAndGlyphs">-0.15</text>
<text x="282.9" y="736.4" text-anchor="end" textLength="14.4" lengthAdjust="spacingAndGlyphs">-0.20</text>
<text x="305.4" y="747.4" text-anchor="middle" font-size="9.8" textLength="14.7" lengthAdjust="spacingAndGlyphs">2001</text>
<text x="330.4" y="747.4" text-anchor="middle" font-size="9.8" textLength="14.7" lengthAdjust="spacingAndGlyphs">2004</text>
<text x="355.3" y="747.4" text-anchor="middle" font-size="9.8" textLength="14.7" lengthAdjust="spacingAndGlyphs">2007</text>
<text x="380.3" y="747.4" text-anchor="middle" font-size="9.8" textLength="14.7" lengthAdjust="spacingAndGlyphs">2010</text>
<text x="405.3" y="747.4" text-anchor="middle" font-size="9.8" textLength="14.7" lengthAdjust="spacingAndGlyphs">2013</text>
<text x="430.2" y="747.4" text-anchor="middle" font-size="9.8" textLength="14.7" lengthAdjust="spacingAndGlyphs">2016</text>
<text x="455.2" y="747.4" text-anchor="middle" font-size="9.8" textLength="14.7" lengthAdjust="spacingAndGlyphs">2019</text>
</g>
<text x="371.1" y="448.1" text-anchor="middle" font-size="10.2" fill="#333" textLength="24.2" lengthAdjust="spacingAndGlyphs">U.S. M2</text>
<line x1="299.8" y1="460.4" x2="316.9" y2="460.4" stroke="#555" stroke-width="1"/>
<rect x="300.1" y="464.6" width="17.5" height="6.7" fill="#d2d2d2"/>
<text x="325.4" y="462.1" font-size="5.9" font-weight="bold" fill="#000" textLength="15" lengthAdjust="spacingAndGlyphs">DLUSM2</text>
<text x="325.4" y="469.2" font-size="5.9" font-weight="bold" fill="#000" textLength="16.7" lengthAdjust="spacingAndGlyphs">DLKOSPI</text>
<g fill="#d4d4d4">
<rect x="520.45" y="574.0" width="1.1" height="68.9"/>
<rect x="521.15" y="568.6" width="1.1" height="5.4"/>
<rect x="521.86" y="574.0" width="1.1" height="20.0"/>
<rect x="522.56" y="474.3" width="1.1" height="99.7"/>
<rect x="523.26" y="566.4" width="1.1" height="7.6"/>
<rect x="523.96" y="574.0" width="1.1" height="62.5"/>
<rect x="524.67" y="574.0" width="1.1" height="1.5"/>
<rect x="525.37" y="555.6" width="1.1" height="18.4"/>
<rect x="526.07" y="574.0" width="1.1" height="94.5"/>
<rect x="526.78" y="544.4" width="1.1" height="29.6"/>
<rect x="527.48" y="474.3" width="1.1" height="99.7"/>
<rect x="528.18" y="489.9" width="1.1" height="84.1"/>
<rect x="528.89" y="536.4" width="1.1" height="37.6"/>
<rect x="529.59" y="485.1" width="1.1" height="88.9"/>
<rect x="530.29" y="574.0" width="1.1" height="44.1"/>
<rect x="530.99" y="574.0" width="1.1" height="44.1"/>
<rect x="531.70" y="574.0" width="1.1" height="57.7"/>
<rect x="532.40" y="574.0" width="1.1" height="48.1"/>
<rect x="533.10" y="574.0" width="1.1" height="44.1"/>
<rect x="533.81" y="574.0" width="1.1" height="44.1"/>
<rect x="534.51" y="574.0" width="1.1" height="72.1"/>
<rect x="535.21" y="528.3" width="1.1" height="45.7"/>
<rect x="535.92" y="572.3" width="1.1" height="1.7"/>
<rect x="536.62" y="571.8" width="1.1" height="2.2"/>
<rect x="537.32" y="574.0" width="1.1" height="83.3"/>
<rect x="538.02" y="574.0" width="1.1" height="62.5"/>
<rect x="538.73" y="574.0" width="1.1" height="56.9"/>
<rect x="539.43" y="525.1" width="1.1" height="48.9"/>
<rect x="540.13" y="537.2" width="1.1" height="36.8"/>
<rect x="540.84" y="512.3" width="1.1" height="61.7"/>
<rect x="541.54" y="574.0" width="1.1" height="16.0"/>
<rect x="542.24" y="573.0" width="1.1" height="1.0"/>
<rect x="542.95" y="542.8" width="1.1" height="31.2"/>
<rect x="543.65" y="572.5" width="1.1" height="1.5"/>
<rect x="544.35" y="540.4" width="1.1" height="33.6"/>
<rect x="545.05" y="571.1" width="1.1" height="2.9"/>
<rect x="545.76" y="530.7" width="1.1" height="43.3"/>
<rect x="546.46" y="546.0" width="1.1" height="28.0"/>
<rect x="547.16" y="545.2" width="1.1" height="28.8"/>
<rect x="547.87" y="574.0" width="1.1" height="27.2"/>
<rect x="548.57" y="574.0" width="1.1" height="102.5"/>
<rect x="549.27" y="574.0" width="1.1" height="27.2"/>
<rect x="549.98" y="574.0" width="1.1" height="8.0"/>
<rect x="550.68" y="558.0" width="1.1" height="16.0"/>
<rect x="551.38" y="507.5" width="1.1" height="66.5"/>
<rect x="552.08" y="574.0" width="1.1" height="12.0"/>
<rect x="552.79" y="571.3" width="1.1" height="2.7"/>
<rect x="553.49" y="574.0" width="1.1" height="12.1"/>
<rect x="554.19" y="521.1" width="1.1" height="52.9"/>
<rect x="554.90" y="534.0" width="1.1" height="40.1"/>
<rect x="555.60" y="574.0" width="1.1" height="27.2"/>
<rect x="556.30" y="531.5" width="1.1" height="42.5"/>
<rect x="557.00" y="570.3" width="1.1" height="3.7"/>
<rect x="557.71" y="521.1" width="1.1" height="52.9"/>
<rect x="558.41" y="569.9" width="1.1" height="4.1"/>
<rect x="559.11" y="525.9" width="1.1" height="48.1"/>
<rect x="559.82" y="527.5" width="1.1" height="46.5"/>
<rect x="560.52" y="525.9" width="1.1" height="48.1"/>
<rect x="561.22" y="574.0" width="1.1" height="3.7"/>
<rect x="561.93" y="521.1" width="1.1" height="52.9"/>
<rect x="562.63" y="538.0" width="1.1" height="36.0"/>
<rect x="563.33" y="574.0" width="1.1" height="22.4"/>
<rect x="564.03" y="574.0" width="1.1" height="22.4"/>
<rect x="564.74" y="525.9" width="1.1" height="48.1"/>
<rect x="565.44" y="574.0" width="1.1" height="56.1"/>
<rect x="566.14" y="574.0" width="1.1" height="84.1"/>
<rect x="566.85" y="550.8" width="1.1" height="23.2"/>
<rect x="567.55" y="554.0" width="1.1" height="20.0"/>
<rect x="568.25" y="566.0" width="1.1" height="8.0"/>
<rect x="568.96" y="569.5" width="1.1" height="4.5"/>
<rect x="569.66" y="545.2" width="1.1" height="28.8"/>
<rect x="570.36" y="574.0" width="1.1" height="21.6"/>
<rect x="571.06" y="542.8" width="1.1" height="31.2"/>
<rect x="571.77" y="574.0" width="1.1" height="21.6"/>
<rect x="572.47" y="574.0" width="1.1" height="8.0"/>
<rect x="573.17" y="558.0" width="1.1" height="16.0"/>
<rect x="573.88" y="574.0" width="1.1" height="2.1"/>
<rect x="574.58" y="505.9" width="1.1" height="68.1"/>
<rect x="575.28" y="574.0" width="1.1" height="41.7"/>
<rect x="575.99" y="546.8" width="1.1" height="27.2"/>
<rect x="576.69" y="521.9" width="1.1" height="52.1"/>
<rect x="577.39" y="573.1" width="1.1" height="0.9"/>
<rect x="578.09" y="574.0" width="1.1" height="32.0"/>
<rect x="578.80" y="574.0" width="1.1" height="75.7"/>
<rect x="579.50" y="574.0" width="1.1" height="28.0"/>
<rect x="580.20" y="574.0" width="1.1" height="5.0"/>
<rect x="580.91" y="515.5" width="1.1" height="58.5"/>
<rect x="581.61" y="574.0" width="1.1" height="2.4"/>
<rect x="582.31" y="574.0" width="1.1" height="49.7"/>
<rect x="583.02" y="574.0" width="1.1" height="91.3"/>
<rect x="583.72" y="574.0" width="1.1" height="49.7"/>
<rect x="584.42" y="574.0" width="1.1" height="49.7"/>
<rect x="585.12" y="574.0" width="1.1" height="149.0"/>
<rect x="585.83" y="574.0" width="1.1" height="49.7"/>
<rect x="586.53" y="544.4" width="1.1" height="29.6"/>
<rect x="587.23" y="570.5" width="1.1" height="3.5"/>
<rect x="587.94" y="574.0" width="1.1" height="12.0"/>
<rect x="588.64" y="574.0" width="1.1" height="10.8"/>
<rect x="589.34" y="528.3" width="1.1" height="45.7"/>
<rect x="590.04" y="456.3" width="1.1" height="117.7"/>
<rect x="590.75" y="538.0" width="1.1" height="36.0"/>
<rect x="591.45" y="538.0" width="1.1" height="36.0"/>
<rect x="592.15" y="513.1" width="1.1" height="60.9"/>
<rect x="592.86" y="567.0" width="1.1" height="7.0"/>
<rect x="593.56" y="574.0" width="1.1" height="24.0"/>
<rect x="594.26" y="574.0" width="1.1" height="14.4"/>
<rect x="594.97" y="574.0" width="1.1" height="3.5"/>
<rect x="595.67" y="542.8" width="1.1" height="31.2"/>
<rect x="596.37" y="574.0" width="1.1" height="41.7"/>
<rect x="597.07" y="541.2" width="1.1" height="32.8"/>
<rect x="597.78" y="574.0" width="1.1" height="4.2"/>
<rect x="598.48" y="554.0" width="1.1" height="20.0"/>
<rect x="599.18" y="574.0" width="1.1" height="39.2"/>
<rect x="599.89" y="574.0" width="1.1" height="8.0"/>
<rect x="600.59" y="558.0" width="1.1" height="16.0"/>
<rect x="601.29" y="542.0" width="1.1" height="32.0"/>
<rect x="602.00" y="546.0" width="1.1" height="28.0"/>
<rect x="602.70" y="573.8" width="1.1" height="0.2"/>
<rect x="603.40" y="539.6" width="1.1" height="34.4"/>
<rect x="604.10" y="570.3" width="1.1" height="3.7"/>
<rect x="604.81" y="574.0" width="1.1" height="34.4"/>
<rect x="605.51" y="568.6" width="1.1" height="5.4"/>
<rect x="606.21" y="516.3" width="1.1" height="57.7"/>
<rect x="606.92" y="574.0" width="1.1" height="9.5"/>
<rect x="607.62" y="574.0" width="1.1" height="19.2"/>
<rect x="608.32" y="546.0" width="1.1" height="28.0"/>
<rect x="609.03" y="574.0" width="1.1" height="112.1"/>
<rect x="609.73" y="574.0" width="1.1" height="19.2"/>
<rect x="610.43" y="574.0" width="1.1" height="19.2"/>
<rect x="611.13" y="559.6" width="1.1" height="14.4"/>
<rect x="611.84" y="559.6" width="1.1" height="14.4"/>
<rect x="612.54" y="574.0" width="1.1" height="3.9"/>
<rect x="613.24" y="528.3" width="1.1" height="45.7"/>
<rect x="613.95" y="574.0" width="1.1" height="9.1"/>
<rect x="614.65" y="574.0" width="1.1" height="11.8"/>
<rect x="615.35" y="574.0" width="1.1" height="44.9"/>
<rect x="616.06" y="574.0" width="1.1" height="16.0"/>
<rect x="616.76" y="574.0" width="1.1" height="3.3"/>
<rect x="617.46" y="534.8" width="1.1" height="39.2"/>
<rect x="618.16" y="572.8" width="1.1" height="1.2"/>
<rect x="618.87" y="574.0" width="1.1" height="1.9"/>
<rect x="619.57" y="574.0" width="1.1" height="15.2"/>
<rect x="620.27" y="546.0" width="1.1" height="28.0"/>
<rect x="620.98" y="574.0" width="1.1" height="11.9"/>
<rect x="621.68" y="573.5" width="1.1" height="0.5"/>
<rect x="622.38" y="573.3" width="1.1" height="0.7"/>
<rect x="623.08" y="559.6" width="1.1" height="14.4"/>
<rect x="623.79" y="574.0" width="1.1" height="37.6"/>
<rect x="624.49" y="574.0" width="1.1" height="16.0"/>
<rect x="625.19" y="572.8" width="1.1" height="1.2"/>
<rect x="625.90" y="572.3" width="1.1" height="1.7"/>
<rect x="626.60" y="538.0" width="1.1" height="36.0"/>
<rect x="627.30" y="574.0" width="1.1" height="16.0"/>
<rect x="628.01" y="574.0" width="1.1" height="1.5"/>
<rect x="628.71" y="574.0" width="1.1" height="16.0"/>
<rect x="629.41" y="574.0" width="1.1" height="16.0"/>
<rect x="630.11" y="574.0" width="1.1" height="16.0"/>
<rect x="630.82" y="573.9" width="1.1" height="0.1"/>
<rect x="631.52" y="558.0" width="1.1" height="16.0"/>
<rect x="632.22" y="564.4" width="1.1" height="9.6"/>
<rect x="632.93" y="574.0" width="1.1" height="6.4"/>
<rect x="633.63" y="564.4" width="1.1" height="9.6"/>
<rect x="634.33" y="559.6" width="1.1" height="14.4"/>
<rect x="635.04" y="574.0" width="1.1" height="8.0"/>
<rect x="635.74" y="574.0" width="1.1" height="40.1"/>
<rect x="636.44" y="562.0" width="1.1" height="12.0"/>
<rect x="637.14" y="574.0" width="1.1" height="8.0"/>
<rect x="637.85" y="566.3" width="1.1" height="7.7"/>
<rect x="638.55" y="554.0" width="1.1" height="20.0"/>
<rect x="639.25" y="537.2" width="1.1" height="36.8"/>
<rect x="639.96" y="574.0" width="1.1" height="2.5"/>
<rect x="640.66" y="574.0" width="1.1" height="19.2"/>
<rect x="641.36" y="574.0" width="1.1" height="19.2"/>
<rect x="642.07" y="574.0" width="1.1" height="41.7"/>
<rect x="642.77" y="574.0" width="1.1" height="19.2"/>
<rect x="643.47" y="574.0" width="1.1" height="19.2"/>
<rect x="644.17" y="541.2" width="1.1" height="32.8"/>
<rect x="644.88" y="574.0" width="1.1" height="3.4"/>
<rect x="645.58" y="570.1" width="1.1" height="3.9"/>
<rect x="646.28" y="574.0" width="1.1" height="32.0"/>
<rect x="646.99" y="542.8" width="1.1" height="31.2"/>
<rect x="647.69" y="562.0" width="1.1" height="12.0"/>
<rect x="648.39" y="574.0" width="1.1" height="12.0"/>
<rect x="649.10" y="574.0" width="1.1" height="8.0"/>
<rect x="649.80" y="563.3" width="1.1" height="10.7"/>
<rect x="650.50" y="560.4" width="1.1" height="13.6"/>
<rect x="651.20" y="573.5" width="1.1" height="0.5"/>
<rect x="651.91" y="569.4" width="1.1" height="4.6"/>
<rect x="652.61" y="574.0" width="1.1" height="21.6"/>
<rect x="653.31" y="574.0" width="1.1" height="0.0"/>
<rect x="654.02" y="558.0" width="1.1" height="16.0"/>
<rect x="654.72" y="574.0" width="1.1" height="8.0"/>
<rect x="655.42" y="554.8" width="1.1" height="19.2"/>
<rect x="656.12" y="574.0" width="1.1" height="8.0"/>
<rect x="656.83" y="573.4" width="1.1" height="0.6"/>
<rect x="657.53" y="523.5" width="1.1" height="50.5"/>
<rect x="658.23" y="559.5" width="1.1" height="14.5"/>
<rect x="658.94" y="558.0" width="1.1" height="16.0"/>
<rect x="659.64" y="574.0" width="1.1" height="12.8"/>
<rect x="660.34" y="538.0" width="1.1" height="36.0"/>
<rect x="661.05" y="574.0" width="1.1" height="6.4"/>
<rect x="661.75" y="574.0" width="1.1" height="21.6"/>
<rect x="662.45" y="557.2" width="1.1" height="16.8"/>
<rect x="663.15" y="566.9" width="1.1" height="7.1"/>
<rect x="663.86" y="574.0" width="1.1" height="26.4"/>
<rect x="664.56" y="567.5" width="1.1" height="6.5"/>
<rect x="665.26" y="574.0" width="1.1" height="2.4"/>
<rect x="665.97" y="550.0" width="1.1" height="24.0"/>
<rect x="666.67" y="574.0" width="1.1" height="37.6"/>
<rect x="667.37" y="574.0" width="1.1" height="16.0"/>
<rect x="668.08" y="574.0" width="1.1" height="12.8"/>
<rect x="668.78" y="574.0" width="1.1" height="55.3"/>
<rect x="669.48" y="571.6" width="1.1" height="2.4"/>
<rect x="670.18" y="574.0" width="1.1" height="26.4"/>
<rect x="670.89" y="574.0" width="1.1" height="16.0"/>
<rect x="671.59" y="534.0" width="1.1" height="40.1"/>
<rect x="672.29" y="564.4" width="1.1" height="9.6"/>
<rect x="673.00" y="574.0" width="1.1" height="21.6"/>
<rect x="673.70" y="574.0" width="1.1" height="46.5"/>
<rect x="674.40" y="574.0" width="1.1" height="21.6"/>
<rect x="675.11" y="574.0" width="1.1" height="1.8"/>
<rect x="675.81" y="574.0" width="1.1" height="53.7"/>
<rect x="676.51" y="534.0" width="1.1" height="40.1"/>
<rect x="677.21" y="550.0" width="1.1" height="24.0"/>
<rect x="677.92" y="570.0" width="1.1" height="4.0"/>
<rect x="678.62" y="550.0" width="1.1" height="24.0"/>
<rect x="679.32" y="551.6" width="1.1" height="22.4"/>
<rect x="680.03" y="572.2" width="1.1" height="1.8"/>
<rect x="680.73" y="574.0" width="1.1" height="155.4"/>
<rect x="681.43" y="574.0" width="1.1" height="16.0"/>
<rect x="682.14" y="525.9" width="1.1" height="48.1"/>
<rect x="682.84" y="507.5" width="1.1" height="66.5"/>
<rect x="683.54" y="573.9" width="1.1" height="0.1"/>
<rect x="684.24" y="520.3" width="1.1" height="53.7"/>
<rect x="684.95" y="542.0" width="1.1" height="32.0"/>
<rect x="685.65" y="574.0" width="1.1" height="4.8"/>
</g>
<line x1="508.0" y1="574.0" x2="521.4" y2="574.0" stroke="#8a8a8a" stroke-width="1"/>
<line x1="686.8" y1="574.0" x2="695.8" y2="574.0" stroke="#8a8a8a" stroke-width="1"/>
<polyline points="521.00,581.2 521.70,566.0 522.41,558.0 523.11,524.3 523.81,558.0 524.51,562.0 525.22,558.8 525.92,565.9 526.62,561.6 527.33,573.1 528.03,557.4 528.73,559.6 529.44,568.3 530.14,565.7 530.84,556.0 531.54,563.9 532.25,549.9 532.95,549.6 533.65,553.2 534.36,573.5 535.06,574.0 535.76,568.1 536.47,566.2 537.17,556.8 537.87,553.5 538.57,560.7 539.28,558.6 539.98,560.4 540.68,575.1 541.39,561.7 542.09,570.2 542.79,564.6 543.50,575.8 544.20,558.1 544.90,551.2 545.60,574.1 546.31,560.2 547.01,575.4 547.71,566.4 548.42,571.7 549.12,552.6 549.82,556.2 550.53,551.6 551.23,570.1 551.93,556.4 552.63,557.0 553.34,562.1 554.04,551.1 554.74,559.0 555.45,568.3 556.15,556.5 556.85,562.9 557.55,570.2 558.26,559.2 558.96,574.7 559.66,563.8 560.37,560.8 561.07,575.9 561.77,558.3 562.48,573.6 563.18,558.3 563.88,566.7 564.58,575.2 565.29,548.8 565.99,574.3 566.69,571.7 567.40,562.2 568.10,569.3 568.80,561.6 569.51,563.1 570.21,560.3 570.91,561.2 571.61,568.0 572.32,570.2 573.02,557.1 573.72,564.3 574.43,561.8 575.13,551.1 575.83,575.8 576.54,568.4 577.24,560.7 577.94,574.5 578.64,555.5 579.35,565.1 580.05,567.4 580.75,570.7 581.46,549.7 582.16,574.7 582.86,553.6 583.57,556.8 584.27,551.6 584.97,556.9 585.67,542.0 586.38,537.2 587.08,545.2 587.78,568.3 588.49,544.0 589.19,549.7 589.89,564.6 590.59,541.5 591.30,562.1 592.00,571.4 592.70,563.7 593.41,556.5 594.11,571.7 594.81,554.9 595.52,559.7 596.22,563.4 596.92,550.9 597.62,555.4 598.33,545.2 599.03,548.4 599.73,551.4 600.44,549.2 601.14,551.7 601.84,562.8 602.55,575.5 603.25,564.0 603.95,558.7 604.65,548.1 605.36,557.7 606.06,560.1 606.76,575.0 607.47,557.8 608.17,576.5 608.87,573.2 609.58,576.3 610.28,555.3 610.98,549.0 611.68,559.5 612.39,574.9 613.09,555.1 613.79,572.3 614.50,556.0 615.20,557.0 615.90,548.8 616.61,572.6 617.31,570.5 618.01,567.9 618.71,575.3 619.42,548.8 620.12,558.7 620.82,574.4 621.53,563.1 622.23,574.6 622.93,548.3 623.63,566.7 624.34,577.5 625.04,555.1 625.74,567.5 626.45,557.8 627.15,553.8 627.85,575.3 628.56,561.0 629.26,548.7 629.96,571.3 630.66,570.8 631.37,562.0 632.07,574.8 632.77,558.9 633.48,559.3 634.18,556.3 634.88,558.6 635.59,563.9 636.29,566.4 636.99,564.8 637.69,562.8 638.40,555.7 639.10,572.8 639.80,565.7 640.51,566.6 641.21,570.9 641.91,572.6 642.62,559.7 643.32,563.8 644.02,561.6 644.72,570.6 645.43,566.0 646.13,572.7 646.83,572.8 647.54,573.2 648.24,562.5 648.94,558.4 649.65,564.1 650.35,559.8 651.05,574.4 651.75,565.2 652.46,573.1 653.16,565.1 653.86,570.8 654.57,570.7 655.27,556.9 655.97,564.6 656.67,570.9 657.38,565.8 658.08,570.1 658.78,559.4 659.49,567.7 660.19,558.5 660.89,563.6 661.60,562.4 662.30,563.3 663.00,563.8 663.70,574.7 664.41,559.5 665.11,563.2 665.81,571.3 666.52,565.7 667.22,556.2 667.92,562.4 668.63,564.5 669.33,565.0 670.03,574.6 670.73,565.7 671.44,567.0 672.14,562.6 672.84,568.5 673.55,573.0 674.25,558.3 674.95,570.8 675.66,571.3 676.36,566.9 677.06,556.3 677.76,561.4 678.47,573.1 679.17,574.0 679.87,565.6 680.58,574.7 681.28,571.3 681.98,573.6 682.69,558.0 683.39,557.6 684.09,557.9 684.79,582.0 685.50,575.2 686.20,570.3" fill="none" stroke="#1a1a1a" stroke-width="0.85" stroke-linejoin="round"/>
<g stroke="#9a9a9a" stroke-width="1.1" fill="none">
<polyline points="508.0,453.8 695.8,453.8 695.8,734.2 512.5,734.2"/>
</g>
<line x1="512.5" y1="453.8" x2="512.5" y2="734.2" stroke="#6e6e6e" stroke-width="1"/>
<g stroke="#7a7a7a" stroke-width="1">
<line x1="508.0" y1="453.8" x2="512.5" y2="453.8"/>
<line x1="508.0" y1="493.9" x2="512.5" y2="493.9"/>
<line x1="508.0" y1="533.9" x2="512.5" y2="533.9"/>
<line x1="508.0" y1="574.0" x2="512.5" y2="574.0"/>
<line x1="508.0" y1="614.0" x2="512.5" y2="614.0"/>
<line x1="508.0" y1="654.1" x2="512.5" y2="654.1"/>
<line x1="508.0" y1="694.2" x2="512.5" y2="694.2"/>
<line x1="508.0" y1="734.2" x2="512.5" y2="734.2"/>
<line x1="529.8" y1="734.2" x2="529.8" y2="736.4"/>
<line x1="538.2" y1="734.2" x2="538.2" y2="736.4"/>
<line x1="546.5" y1="734.2" x2="546.5" y2="738.2"/>
<line x1="554.9" y1="734.2" x2="554.9" y2="736.4"/>
<line x1="563.3" y1="734.2" x2="563.3" y2="736.4"/>
<line x1="571.6" y1="734.2" x2="571.6" y2="738.2"/>
<line x1="580.0" y1="734.2" x2="580.0" y2="736.4"/>
<line x1="588.4" y1="734.2" x2="588.4" y2="736.4"/>
<line x1="596.8" y1="734.2" x2="596.8" y2="738.2"/>
<line x1="605.1" y1="734.2" x2="605.1" y2="736.4"/>
<line x1="613.5" y1="734.2" x2="613.5" y2="736.4"/>
<line x1="621.9" y1="734.2" x2="621.9" y2="738.2"/>
<line x1="630.2" y1="734.2" x2="630.2" y2="736.4"/>
<line x1="638.6" y1="734.2" x2="638.6" y2="736.4"/>
<line x1="647.0" y1="734.2" x2="647.0" y2="738.2"/>
<line x1="655.3" y1="734.2" x2="655.3" y2="736.4"/>
<line x1="663.7" y1="734.2" x2="663.7" y2="736.4"/>
<line x1="672.1" y1="734.2" x2="672.1" y2="738.2"/>
<line x1="680.5" y1="734.2" x2="680.5" y2="736.4"/>
</g>
<g fill="#3a3a3a" font-size="9.3">
<text x="502.9" y="456.0" text-anchor="end" textLength="12.3" lengthAdjust="spacingAndGlyphs">0.15</text>
<text x="502.9" y="496.1" text-anchor="end" textLength="12.3" lengthAdjust="spacingAndGlyphs">0.10</text>
<text x="502.9" y="536.1" text-anchor="end" textLength="12.3" lengthAdjust="spacingAndGlyphs">0.05</text>
<text x="502.9" y="576.2" text-anchor="end" textLength="14.4" lengthAdjust="spacingAndGlyphs">-0.00</text>
<text x="502.9" y="616.2" text-anchor="end" textLength="14.4" lengthAdjust="spacingAndGlyphs">-0.05</text>
<text x="502.9" y="656.3" text-anchor="end" textLength="14.4" lengthAdjust="spacingAndGlyphs">-0.10</text>
<text x="502.9" y="696.4" text-anchor="end" textLength="14.4" lengthAdjust="spacingAndGlyphs">-0.15</text>
<text x="502.9" y="736.4" text-anchor="end" textLength="14.4" lengthAdjust="spacingAndGlyphs">-0.20</text>
<text x="525.4" y="747.4" text-anchor="middle" font-size="9.8" textLength="14.7" lengthAdjust="spacingAndGlyphs">2001</text>
<text x="550.4" y="747.4" text-anchor="middle" font-size="9.8" textLength="14.7" lengthAdjust="spacingAndGlyphs">2004</text>
<text x="575.3" y="747.4" text-anchor="middle" font-size="9.8" textLength="14.7" lengthAdjust="spacingAndGlyphs">2007</text>
<text x="600.3" y="747.4" text-anchor="middle" font-size="9.8" textLength="14.7" lengthAdjust="spacingAndGlyphs">2010</text>
<text x="625.3" y="747.4" text-anchor="middle" font-size="9.8" textLength="14.7" lengthAdjust="spacingAndGlyphs">2013</text>
<text x="650.2" y="747.4" text-anchor="middle" font-size="9.8" textLength="14.7" lengthAdjust="spacingAndGlyphs">2016</text>
<text x="675.2" y="747.4" text-anchor="middle" font-size="9.8" textLength="14.7" lengthAdjust="spacingAndGlyphs">2019</text>
</g>
<text x="591.1" y="448.1" text-anchor="middle" font-size="10.2" fill="#333" textLength="26.5" lengthAdjust="spacingAndGlyphs">China M2</text>
<line x1="519.8" y1="460.4" x2="536.9" y2="460.4" stroke="#555" stroke-width="1"/>
<rect x="520.1" y="464.6" width="17.5" height="6.7" fill="#d2d2d2"/>
<text x="545.4" y="462.1" font-size="5.9" font-weight="bold" fill="#000" textLength="14.1" lengthAdjust="spacingAndGlyphs">DLCHM2</text>
<text x="545.4" y="469.2" font-size="5.9" font-weight="bold" fill="#000" textLength="16.7" lengthAdjust="spacingAndGlyphs">DLKOSPI</text>
</svg></body></html>
